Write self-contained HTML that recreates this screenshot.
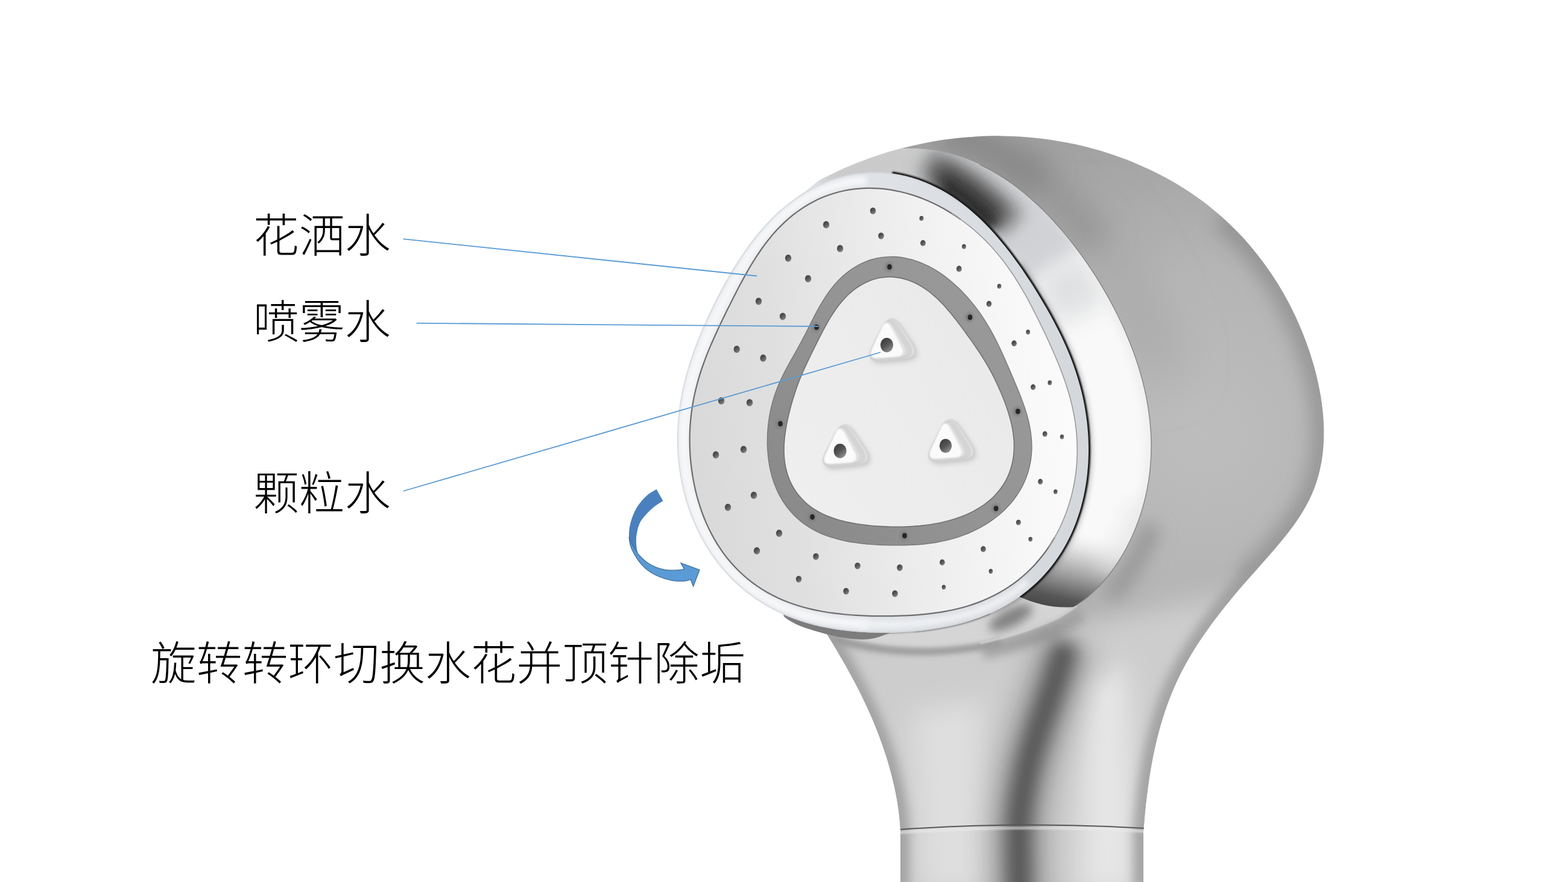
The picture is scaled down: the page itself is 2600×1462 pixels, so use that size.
<!DOCTYPE html>
<html><head><meta charset="utf-8"><title>shower</title>
<style>html,body{margin:0;padding:0;background:#fff;font-family:"Liberation Sans",sans-serif;}svg{display:block}</style>
</head><body><svg width="2600" height="1462" viewBox="0 0 2600 1462">
<defs>
<filter id="b1_2" filterUnits="userSpaceOnUse" x="900" y="100" width="1500" height="1560"><feGaussianBlur stdDeviation="1.2"/></filter>
<filter id="b2" filterUnits="userSpaceOnUse" x="900" y="100" width="1500" height="1560"><feGaussianBlur stdDeviation="2"/></filter>
<filter id="b4" filterUnits="userSpaceOnUse" x="900" y="100" width="1500" height="1560"><feGaussianBlur stdDeviation="4"/></filter>
<filter id="b8" filterUnits="userSpaceOnUse" x="900" y="100" width="1500" height="1560"><feGaussianBlur stdDeviation="8"/></filter>
<filter id="b14" filterUnits="userSpaceOnUse" x="900" y="100" width="1500" height="1560"><feGaussianBlur stdDeviation="14"/></filter>
<filter id="b22" filterUnits="userSpaceOnUse" x="900" y="100" width="1500" height="1560"><feGaussianBlur stdDeviation="22"/></filter>
<filter id="b40" filterUnits="userSpaceOnUse" x="900" y="100" width="1500" height="1560"><feGaussianBlur stdDeviation="40"/></filter>
<clipPath id="cBody"><path d="M1335.0,318.0 C1338.9,314.9 1351.3,304.0 1358.3,299.3 C1365.4,294.5 1370.8,292.8 1377.1,289.7 C1383.4,286.6 1389.7,283.7 1396.1,280.8 C1402.5,277.9 1408.9,275.2 1415.4,272.5 C1421.9,269.9 1428.4,267.3 1435.0,264.9 C1441.5,262.5 1448.1,260.2 1454.7,258.0 C1461.3,255.7 1468.0,253.6 1474.7,251.6 C1481.4,249.7 1488.1,247.8 1494.8,246.0 C1501.6,244.2 1508.3,242.6 1515.1,241.0 C1521.9,239.5 1528.7,238.0 1535.6,236.7 C1542.4,235.4 1549.3,234.2 1556.1,233.1 C1563.0,232.0 1569.9,231.0 1576.8,230.2 C1583.7,229.3 1590.6,228.5 1597.6,227.9 C1604.5,227.3 1611.4,226.8 1618.4,226.4 C1625.3,226.0 1632.3,225.7 1639.3,225.5 C1646.2,225.3 1653.2,225.3 1660.1,225.4 C1667.1,225.4 1674.1,225.6 1681.0,225.9 C1688.0,226.2 1694.9,226.6 1701.9,227.2 C1708.8,227.7 1715.8,228.4 1722.7,229.2 C1729.6,230.0 1736.6,230.9 1743.5,231.9 C1750.4,232.9 1757.3,234.1 1764.2,235.4 C1771.0,236.6 1777.9,238.0 1784.7,239.6 C1791.6,241.1 1798.4,242.7 1805.2,244.5 C1812.0,246.2 1818.7,248.1 1825.5,250.1 C1832.2,252.1 1838.9,254.3 1845.5,256.5 C1852.1,258.7 1858.7,261.1 1865.3,263.6 C1871.8,266.1 1878.4,268.7 1884.8,271.4 C1891.2,274.1 1897.6,277.0 1904.0,279.9 C1910.3,282.9 1916.6,286.0 1922.8,289.2 C1929.0,292.4 1935.1,295.7 1941.2,299.1 C1947.2,302.5 1953.2,306.1 1959.1,309.7 C1965.0,313.4 1970.9,317.2 1976.6,321.1 C1982.3,325.0 1988.0,329.0 1993.5,333.1 C1999.1,337.3 2004.6,341.5 2009.9,345.9 C2015.3,350.2 2020.6,354.7 2025.7,359.3 C2030.9,363.9 2036.0,368.6 2040.9,373.4 C2045.9,378.2 2050.8,383.1 2055.5,388.1 C2060.3,393.1 2065.0,398.2 2069.5,403.4 C2074.1,408.6 2078.5,414.0 2082.8,419.4 C2087.2,424.8 2091.4,430.3 2095.5,435.9 C2099.6,441.4 2103.6,447.1 2107.5,452.9 C2111.4,458.7 2115.2,464.5 2118.9,470.5 C2122.6,476.4 2126.1,482.4 2129.5,488.5 C2133.0,494.6 2136.3,500.8 2139.5,507.1 C2142.7,513.3 2145.8,519.7 2148.8,526.1 C2151.7,532.5 2154.6,538.9 2157.3,545.5 C2160.0,552.0 2162.6,558.6 2165.1,565.3 C2167.6,572.0 2170.0,578.7 2172.2,585.5 C2174.4,592.3 2176.5,599.2 2178.5,606.1 C2180.4,612.9 2182.2,619.9 2183.9,626.9 C2185.5,633.8 2187.0,640.8 2188.3,647.8 C2189.6,654.8 2190.8,661.8 2191.7,668.8 C2192.7,675.8 2193.5,682.8 2194.0,689.8 C2194.6,696.8 2194.9,703.8 2195.1,710.7 C2195.2,717.6 2195.1,724.5 2194.8,731.4 C2194.5,738.2 2194.0,745.0 2193.2,751.8 C2192.4,758.5 2191.3,765.2 2190.0,771.8 C2188.7,778.3 2187.2,784.9 2185.3,791.3 C2183.5,797.7 2181.4,804.0 2179.0,810.2 C2176.5,816.4 2173.8,822.5 2170.9,828.5 C2167.9,834.6 2164.6,840.4 2161.2,846.3 C2157.7,852.1 2154.0,857.8 2150.2,863.4 C2146.3,869.1 2142.2,874.7 2138.0,880.2 C2133.8,885.7 2129.4,891.2 2125.0,896.6 C2120.6,902.0 2116.0,907.4 2111.4,912.7 C2106.7,918.1 2102.0,923.4 2097.3,928.7 C2092.6,934.1 2087.9,939.3 2083.2,944.7 C2078.4,950.0 2073.7,955.3 2069.1,960.6 C2064.4,965.9 2059.8,971.2 2055.2,976.6 C2050.6,981.9 2046.1,987.3 2041.6,992.7 C2037.2,998.1 2032.8,1003.5 2028.4,1009.0 C2024.1,1014.5 2019.8,1019.9 2015.6,1025.5 C2011.4,1031.0 2007.3,1036.6 2003.3,1042.2 C1999.2,1047.8 1995.3,1053.5 1991.5,1059.2 C1987.6,1064.9 1983.9,1070.7 1980.2,1076.5 C1976.6,1082.4 1973.1,1088.3 1969.7,1094.2 C1966.3,1100.2 1963.0,1106.2 1959.8,1112.3 C1956.7,1118.4 1953.6,1124.6 1950.7,1130.9 C1947.8,1137.1 1945.1,1143.5 1942.4,1149.9 C1939.8,1156.3 1937.4,1162.8 1935.0,1169.4 C1932.7,1175.9 1930.4,1182.6 1928.4,1189.3 C1926.3,1195.9 1924.3,1202.7 1922.4,1209.5 C1920.6,1216.3 1918.8,1223.1 1917.2,1230.0 C1915.6,1236.9 1914.1,1243.8 1912.6,1250.7 C1911.2,1257.6 1909.9,1264.6 1908.7,1271.5 C1907.4,1278.5 1906.3,1285.5 1905.3,1292.5 C1904.2,1299.4 1903.3,1306.4 1902.4,1313.4 C1901.5,1320.4 1900.7,1327.3 1899.9,1334.3 C1899.2,1341.2 1898.5,1348.1 1897.9,1355.0 C1897.3,1361.9 1896.6,1372.2 1896.3,1375.6 L1896,1377 L1896,1472 L1493,1472 L1493,1377 L1493.0,1374.0 C1492.7,1369.9 1491.8,1357.6 1490.8,1349.4 C1489.8,1341.3 1488.6,1333.2 1487.2,1325.1 C1485.8,1317.0 1484.1,1308.9 1482.3,1300.9 C1480.5,1292.8 1478.5,1284.9 1476.3,1276.9 C1474.2,1269.0 1471.8,1261.1 1469.3,1253.3 C1466.8,1245.4 1464.2,1237.6 1461.4,1229.9 C1458.6,1222.2 1455.7,1214.5 1452.6,1206.8 C1449.6,1199.2 1446.4,1191.6 1443.1,1184.1 C1439.8,1176.6 1436.3,1169.1 1432.8,1161.7 C1429.3,1154.3 1425.6,1146.9 1421.8,1139.6 C1418.1,1132.3 1414.2,1125.1 1410.3,1117.9 C1406.4,1110.6 1402.3,1103.5 1398.2,1096.3 C1394.1,1089.2 1390.0,1082.1 1385.8,1075.0 C1381.6,1068.0 1377.3,1061.0 1373.0,1053.9 C1368.7,1046.9 1362.2,1036.4 1360.1,1033.0 L1400,900 Z"/></clipPath>
<clipPath id="cChrome"><path d="M1300,380 L1300,180 L1498,180 L1496.6,246.3 C1501.2,246.4 1515.2,246.1 1524.3,246.6 C1533.3,247.2 1542.2,248.2 1550.9,249.6 C1559.6,251.0 1568.1,252.8 1576.4,255.0 C1584.7,257.2 1592.9,259.8 1600.9,262.7 C1608.8,265.6 1616.6,268.9 1624.3,272.5 C1631.9,276.1 1639.4,280.0 1646.7,284.1 C1654.0,288.3 1661.1,292.8 1668.1,297.5 C1675.1,302.2 1681.9,307.1 1688.6,312.3 C1695.3,317.5 1701.9,322.9 1708.3,328.5 C1714.7,334.1 1721.0,339.9 1727.1,345.9 C1733.2,351.9 1739.2,358.0 1745.1,364.3 C1750.9,370.6 1756.7,377.1 1762.3,383.7 C1767.9,390.3 1773.3,397.0 1778.7,403.8 C1784.0,410.7 1789.2,417.6 1794.3,424.7 C1799.4,431.7 1804.3,438.9 1809.1,446.2 C1814.0,453.4 1818.6,460.7 1823.2,468.2 C1827.7,475.6 1832.1,483.1 1836.4,490.6 C1840.6,498.2 1844.7,505.8 1848.7,513.5 C1852.6,521.2 1856.4,529.0 1860.1,536.8 C1863.7,544.7 1867.2,552.5 1870.5,560.5 C1873.8,568.4 1876.9,576.4 1879.8,584.4 C1882.7,592.5 1885.5,600.6 1888.0,608.7 C1890.5,616.8 1892.9,625.0 1895.0,633.3 C1897.1,641.5 1899.0,649.8 1900.7,658.1 C1902.3,666.4 1903.8,674.8 1904.9,683.2 C1906.1,691.5 1907.0,700.0 1907.7,708.4 C1908.4,716.9 1908.8,725.4 1908.9,733.9 C1909.0,742.4 1908.9,750.9 1908.4,759.4 C1908.0,768.0 1907.2,776.5 1906.2,785.1 C1905.2,793.6 1903.8,802.1 1902.2,810.6 C1900.5,819.1 1898.6,827.6 1896.3,836.0 C1894.0,844.4 1891.4,852.7 1888.5,861.0 C1885.6,869.2 1882.4,877.4 1878.8,885.5 C1875.3,893.5 1871.4,901.4 1867.2,909.2 C1863.1,916.9 1858.6,924.5 1853.8,931.8 C1849.1,939.1 1844.0,946.2 1838.7,953.0 C1833.3,959.7 1827.7,966.3 1821.9,972.3 C1816.0,978.4 1809.9,984.2 1803.6,989.4 C1797.3,994.6 1787.4,1001.2 1784.2,1003.5 L1780,1006 Q1735,1010 1688,988 L1600,1000 L1500,700 L1440,330 Z"/></clipPath>
<clipPath id="cRim"><path d="M1124.0,698.7 C1124.5,692.5 1125.1,686.3 1125.9,680.2 C1126.6,674.0 1127.6,667.9 1128.6,661.8 C1129.6,655.8 1130.8,649.7 1132.1,643.7 C1133.5,637.7 1134.9,631.7 1136.4,625.8 C1138.0,619.9 1139.7,614.0 1141.4,608.2 C1143.2,602.3 1145.1,596.5 1147.0,590.7 C1149.0,585.0 1151.1,579.2 1153.2,573.5 C1155.4,567.8 1157.6,562.1 1159.9,556.5 C1162.2,550.8 1164.6,545.2 1167.1,539.6 C1169.5,534.0 1172.1,528.4 1174.7,522.8 C1177.3,517.2 1179.9,511.6 1182.7,506.1 C1185.4,500.5 1188.3,494.9 1191.2,489.3 C1194.1,483.7 1197.0,478.2 1200.1,472.6 C1203.2,467.0 1206.3,461.4 1209.6,455.8 C1212.9,450.2 1216.2,444.7 1219.7,439.1 C1223.2,433.5 1226.8,427.9 1230.5,422.4 C1234.3,416.9 1238.2,411.3 1242.2,405.8 C1246.2,400.4 1250.4,394.9 1254.7,389.6 C1259.1,384.2 1263.6,378.9 1268.3,373.7 C1273.0,368.6 1277.9,363.5 1282.9,358.5 C1288.0,353.6 1293.3,348.8 1298.7,344.2 C1304.1,339.6 1309.8,335.1 1315.6,330.9 C1321.4,326.7 1327.4,322.6 1333.5,318.9 C1339.7,315.2 1346.1,311.6 1352.5,308.5 C1359.0,305.3 1365.7,302.3 1372.4,299.8 C1379.2,297.2 1386.1,294.9 1393.1,293.0 C1400.1,291.1 1407.2,289.5 1414.3,288.3 C1421.5,287.2 1428.7,286.3 1435.9,285.9 C1443.2,285.4 1450.4,285.3 1457.7,285.6 C1464.9,285.8 1472.2,286.5 1479.3,287.5 C1486.5,288.5 1493.6,289.9 1500.7,291.6 C1507.7,293.2 1514.7,295.3 1521.5,297.6 C1528.3,300.0 1535.0,302.6 1541.6,305.5 C1548.2,308.5 1554.6,311.7 1560.9,315.1 C1567.1,318.5 1573.2,322.2 1579.2,326.1 C1585.1,330.0 1590.9,334.1 1596.4,338.3 C1602.0,342.5 1607.4,346.9 1612.6,351.4 C1617.8,355.9 1622.9,360.6 1627.8,365.3 C1632.6,370.0 1637.3,374.8 1641.9,379.7 C1646.4,384.5 1650.8,389.5 1655.0,394.4 C1659.3,399.3 1663.3,404.3 1667.3,409.3 C1671.3,414.2 1675.1,419.2 1678.8,424.2 C1682.5,429.1 1686.1,434.1 1689.6,439.1 C1693.1,444.0 1696.5,448.9 1699.8,453.9 C1703.1,458.8 1706.3,463.7 1709.5,468.6 C1712.6,473.4 1715.7,478.3 1718.7,483.2 C1721.7,488.0 1724.7,492.9 1727.5,497.7 C1730.4,502.5 1733.2,507.4 1736.0,512.2 C1738.8,517.1 1741.5,521.9 1744.1,526.8 C1746.7,531.6 1749.3,536.5 1751.8,541.4 C1754.3,546.3 1756.8,551.2 1759.2,556.1 C1761.6,561.0 1763.9,566.0 1766.1,571.0 C1768.3,576.0 1770.5,581.0 1772.6,586.1 C1774.7,591.2 1776.7,596.3 1778.6,601.5 C1780.5,606.6 1782.3,611.8 1784.0,617.0 C1785.8,622.3 1787.4,627.6 1788.9,632.9 C1790.5,638.2 1791.9,643.6 1793.2,649.0 C1794.6,654.4 1795.8,659.8 1796.9,665.3 C1798.0,670.8 1799.0,676.3 1799.9,681.9 C1800.8,687.5 1801.6,693.1 1802.3,698.7 C1802.9,704.3 1803.5,710.0 1803.9,715.7 C1804.4,721.4 1804.7,727.1 1804.8,732.9 C1805.0,738.7 1805.1,744.5 1805.0,750.3 C1804.9,756.1 1804.7,761.9 1804.4,767.8 C1804.0,773.6 1803.5,779.5 1802.9,785.4 C1802.3,791.3 1801.5,797.2 1800.6,803.1 C1799.6,809.0 1798.5,814.9 1797.3,820.7 C1796.0,826.6 1794.6,832.5 1793.0,838.4 C1791.4,844.2 1789.7,850.0 1787.7,855.8 C1785.8,861.6 1783.7,867.4 1781.4,873.1 C1779.0,878.8 1776.6,884.4 1773.9,890.0 C1771.2,895.5 1768.3,901.0 1765.2,906.4 C1762.2,911.8 1758.9,917.1 1755.4,922.3 C1752.0,927.5 1748.3,932.5 1744.5,937.5 C1740.7,942.4 1736.7,947.2 1732.5,951.8 C1728.3,956.5 1723.9,961.0 1719.4,965.3 C1714.9,969.6 1710.2,973.8 1705.3,977.8 C1700.5,981.8 1695.5,985.6 1690.4,989.2 C1685.3,992.8 1680.0,996.3 1674.7,999.5 C1669.3,1002.8 1663.9,1005.8 1658.3,1008.7 C1652.8,1011.6 1647.1,1014.3 1641.4,1016.8 C1635.7,1019.3 1629.9,1021.6 1624.1,1023.8 C1618.2,1025.9 1612.3,1027.9 1606.4,1029.7 C1600.5,1031.6 1594.5,1033.2 1588.5,1034.7 C1582.5,1036.2 1576.5,1037.6 1570.5,1038.8 C1564.4,1040.1 1558.4,1041.2 1552.3,1042.1 C1546.3,1043.1 1540.2,1044.0 1534.1,1044.7 C1528.1,1045.5 1522.0,1046.1 1515.9,1046.7 C1509.8,1047.2 1503.7,1047.6 1497.6,1048.0 C1491.5,1048.3 1485.4,1048.6 1479.3,1048.7 C1473.2,1048.9 1467.1,1049.0 1461.0,1048.9 C1454.8,1048.9 1448.7,1048.8 1442.6,1048.5 C1436.4,1048.3 1430.2,1048.0 1424.1,1047.5 C1417.9,1047.1 1411.7,1046.5 1405.5,1045.8 C1399.4,1045.2 1393.2,1044.4 1387.0,1043.4 C1380.8,1042.4 1374.6,1041.4 1368.4,1040.1 C1362.2,1038.9 1356.0,1037.5 1349.9,1035.9 C1343.7,1034.3 1337.6,1032.6 1331.5,1030.7 C1325.4,1028.8 1319.4,1026.7 1313.4,1024.4 C1307.4,1022.1 1301.4,1019.6 1295.6,1016.9 C1289.7,1014.3 1283.9,1011.4 1278.2,1008.3 C1272.6,1005.3 1266.9,1002.0 1261.5,998.6 C1256.0,995.1 1250.6,991.5 1245.4,987.6 C1240.1,983.8 1235.0,979.8 1230.0,975.6 C1225.1,971.4 1220.3,967.0 1215.6,962.4 C1210.9,957.9 1206.4,953.2 1202.1,948.3 C1197.8,943.4 1193.6,938.4 1189.6,933.3 C1185.7,928.1 1181.8,922.9 1178.2,917.5 C1174.6,912.1 1171.1,906.6 1167.9,901.0 C1164.6,895.4 1161.5,889.6 1158.6,883.9 C1155.7,878.1 1153.0,872.2 1150.5,866.3 C1147.9,860.3 1145.6,854.3 1143.4,848.3 C1141.2,842.2 1139.2,836.1 1137.4,829.9 C1135.6,823.8 1134.0,817.6 1132.5,811.4 C1131.0,805.2 1129.7,798.9 1128.6,792.7 C1127.5,786.4 1126.5,780.1 1125.7,773.9 C1124.9,767.6 1124.3,761.3 1123.8,755.0 C1123.4,748.7 1123.1,742.4 1122.9,736.2 C1122.8,729.9 1122.8,723.6 1123.0,717.4 C1123.2,711.1 1123.5,704.9 1124.0,698.7Z"/></clipPath>
<clipPath id="cFace"><path d="M1148.8,669.2 C1149.7,663.5 1150.9,657.9 1152.1,652.3 C1153.3,646.7 1154.7,641.1 1156.2,635.7 C1157.6,630.2 1159.2,624.8 1160.9,619.4 C1162.6,614.0 1164.4,608.7 1166.3,603.5 C1168.2,598.3 1170.1,593.1 1172.1,587.9 C1174.2,582.8 1176.3,577.7 1178.4,572.7 C1180.5,567.7 1182.8,562.7 1185.0,557.7 C1187.2,552.8 1189.5,547.9 1191.8,542.9 C1194.1,538.0 1196.4,533.2 1198.8,528.3 C1201.2,523.4 1203.5,518.5 1205.9,513.6 C1208.4,508.8 1210.8,503.9 1213.3,499.0 C1215.7,494.1 1218.2,489.2 1220.8,484.2 C1223.3,479.3 1225.9,474.3 1228.6,469.3 C1231.2,464.4 1234.0,459.4 1236.8,454.4 C1239.6,449.4 1242.5,444.3 1245.5,439.3 C1248.5,434.3 1251.6,429.3 1254.9,424.3 C1258.2,419.4 1261.5,414.4 1265.1,409.5 C1268.6,404.6 1272.3,399.8 1276.2,395.0 C1280.1,390.3 1284.1,385.6 1288.3,381.1 C1292.5,376.6 1296.9,372.2 1301.5,367.9 C1306.0,363.7 1310.8,359.6 1315.7,355.7 C1320.6,351.9 1325.7,348.2 1330.9,344.8 C1336.2,341.3 1341.6,338.1 1347.2,335.2 C1352.7,332.2 1358.4,329.5 1364.2,327.1 C1370.0,324.7 1376.0,322.5 1382.0,320.7 C1388.0,318.8 1394.2,317.3 1400.3,316.0 C1406.5,314.7 1412.7,313.8 1419.0,313.1 C1425.2,312.4 1431.6,312.0 1437.8,311.9 C1444.1,311.8 1450.4,311.9 1456.7,312.4 C1463.0,312.8 1469.2,313.5 1475.4,314.4 C1481.6,315.4 1487.7,316.6 1493.8,318.0 C1499.9,319.4 1505.9,321.1 1511.8,322.9 C1517.7,324.7 1523.5,326.8 1529.3,329.0 C1535.0,331.3 1540.6,333.7 1546.2,336.3 C1551.7,338.9 1557.1,341.6 1562.4,344.5 C1567.7,347.4 1572.9,350.5 1577.9,353.7 C1583.0,356.8 1587.9,360.2 1592.7,363.6 C1597.5,367.0 1602.2,370.6 1606.7,374.2 C1611.3,377.8 1615.7,381.6 1620.0,385.4 C1624.3,389.2 1628.4,393.2 1632.5,397.1 C1636.5,401.1 1640.4,405.2 1644.2,409.3 C1647.9,413.5 1651.6,417.7 1655.1,421.9 C1658.6,426.1 1662.0,430.4 1665.2,434.8 C1668.5,439.1 1671.7,443.4 1674.7,447.8 C1677.8,452.2 1680.7,456.6 1683.6,461.0 C1686.4,465.5 1689.1,469.9 1691.8,474.3 C1694.5,478.8 1697.0,483.2 1699.6,487.7 C1702.1,492.1 1704.5,496.6 1706.9,501.0 C1709.3,505.5 1711.6,509.9 1713.9,514.3 C1716.1,518.8 1718.4,523.2 1720.6,527.6 C1722.8,532.1 1725.0,536.5 1727.1,541.0 C1729.2,545.4 1731.4,549.8 1733.5,554.3 C1735.6,558.8 1737.6,563.2 1739.7,567.7 C1741.8,572.3 1743.8,576.8 1745.8,581.3 C1747.8,585.9 1749.8,590.5 1751.7,595.2 C1753.7,599.8 1755.6,604.5 1757.5,609.2 C1759.4,614.0 1761.2,618.8 1763.0,623.7 C1764.7,628.5 1766.4,633.4 1768.1,638.4 C1769.7,643.4 1771.3,648.5 1772.7,653.6 C1774.2,658.7 1775.6,663.9 1776.9,669.2 C1778.1,674.5 1779.3,679.8 1780.3,685.2 C1781.4,690.6 1782.3,696.0 1783.1,701.5 C1783.8,707.1 1784.5,712.6 1785.0,718.2 C1785.5,723.9 1785.9,729.5 1786.1,735.2 C1786.2,740.9 1786.3,746.7 1786.2,752.5 C1786.0,758.3 1785.8,764.1 1785.3,769.9 C1784.9,775.7 1784.2,781.6 1783.4,787.4 C1782.6,793.3 1781.7,799.2 1780.5,805.0 C1779.3,810.9 1778.0,816.8 1776.5,822.6 C1774.9,828.4 1773.2,834.3 1771.3,840.1 C1769.4,845.8 1767.3,851.6 1765.0,857.3 C1762.7,863.0 1760.3,868.6 1757.6,874.2 C1754.9,879.8 1752.0,885.3 1748.9,890.7 C1745.8,896.1 1742.5,901.4 1739.0,906.6 C1735.6,911.8 1731.9,916.9 1728.0,921.8 C1724.1,926.7 1720.0,931.5 1715.8,936.2 C1711.5,940.8 1707.0,945.3 1702.4,949.5 C1697.8,953.8 1693.0,957.9 1688.0,961.8 C1683.0,965.7 1677.9,969.4 1672.6,972.9 C1667.4,976.4 1662.0,979.7 1656.4,982.8 C1650.9,985.9 1645.3,988.7 1639.5,991.3 C1633.8,994.0 1628.0,996.4 1622.1,998.6 C1616.2,1000.8 1610.2,1002.8 1604.2,1004.7 C1598.1,1006.5 1592.1,1008.1 1586.0,1009.5 C1579.9,1011.0 1573.7,1012.2 1567.6,1013.4 C1561.5,1014.5 1555.3,1015.4 1549.2,1016.2 C1543.0,1017.1 1536.8,1017.8 1530.7,1018.4 C1524.5,1019.0 1518.4,1019.4 1512.2,1019.8 C1506.1,1020.2 1500.0,1020.5 1493.8,1020.7 C1487.7,1020.9 1481.5,1021.1 1475.4,1021.2 C1469.2,1021.2 1463.1,1021.2 1456.9,1021.2 C1450.8,1021.1 1444.6,1021.0 1438.4,1020.8 C1432.3,1020.6 1426.1,1020.3 1419.8,1019.9 C1413.6,1019.5 1407.4,1019.1 1401.1,1018.5 C1394.9,1017.9 1388.6,1017.2 1382.4,1016.4 C1376.1,1015.6 1369.8,1014.6 1363.5,1013.5 C1357.2,1012.4 1351.0,1011.1 1344.7,1009.6 C1338.5,1008.2 1332.2,1006.5 1326.0,1004.7 C1319.9,1002.8 1313.7,1000.7 1307.6,998.5 C1301.6,996.2 1295.6,993.7 1289.7,990.9 C1283.8,988.2 1278.0,985.2 1272.3,982.0 C1266.6,978.7 1261.1,975.3 1255.7,971.6 C1250.3,967.9 1245.1,964.0 1240.0,959.9 C1235.0,955.7 1230.1,951.4 1225.4,946.8 C1220.8,942.3 1216.3,937.5 1212.0,932.6 C1207.7,927.7 1203.7,922.6 1199.8,917.3 C1196.0,912.1 1192.4,906.7 1188.9,901.2 C1185.5,895.7 1182.3,890.0 1179.4,884.3 C1176.4,878.6 1173.6,872.7 1171.0,866.9 C1168.5,861.0 1166.1,855.0 1163.9,849.0 C1161.8,843.0 1159.8,837.0 1158.0,830.9 C1156.2,824.9 1154.6,818.8 1153.2,812.7 C1151.7,806.6 1150.5,800.5 1149.4,794.4 C1148.3,788.2 1147.3,782.1 1146.6,776.0 C1145.8,770.0 1145.2,763.9 1144.7,757.8 C1144.2,751.8 1143.9,745.7 1143.8,739.7 C1143.6,733.7 1143.6,727.7 1143.7,721.7 C1143.8,715.8 1144.1,709.9 1144.5,704.0 C1145.0,698.1 1145.5,692.2 1146.2,686.5 C1146.9,680.7 1147.8,674.9 1148.8,669.2Z"/></clipPath>
<clipPath id="cG"><path d="M1276.7,684.8 C1277.4,681.2 1278.2,677.5 1279.1,673.9 C1280.0,670.3 1280.9,666.8 1282.0,663.3 C1283.0,659.7 1284.1,656.3 1285.3,652.8 C1286.5,649.4 1287.7,646.0 1289.0,642.7 C1290.4,639.4 1291.7,636.1 1293.2,632.8 C1294.6,629.6 1296.1,626.4 1297.7,623.3 C1299.2,620.1 1300.8,617.0 1302.4,613.9 C1304.0,610.8 1305.7,607.8 1307.3,604.8 C1309.0,601.7 1310.7,598.7 1312.3,595.7 C1314.0,592.8 1315.7,589.8 1317.4,586.8 C1319.1,583.8 1320.7,580.8 1322.4,577.8 C1324.1,574.8 1325.7,571.8 1327.4,568.7 C1329.0,565.7 1330.7,562.6 1332.3,559.4 C1334.0,556.3 1335.6,553.1 1337.3,549.8 C1338.9,546.6 1340.6,543.3 1342.3,539.9 C1344.0,536.6 1345.7,533.1 1347.5,529.7 C1349.2,526.2 1351.0,522.6 1352.9,519.1 C1354.8,515.5 1356.8,511.9 1358.9,508.2 C1360.9,504.6 1363.1,500.9 1365.4,497.3 C1367.7,493.6 1370.0,490.0 1372.6,486.4 C1375.1,482.8 1377.8,479.2 1380.6,475.7 C1383.4,472.2 1386.4,468.8 1389.5,465.5 C1392.7,462.3 1395.9,459.1 1399.4,456.1 C1402.8,453.1 1406.4,450.2 1410.1,447.6 C1413.8,445.0 1417.7,442.5 1421.6,440.3 C1425.6,438.0 1429.7,436.0 1433.9,434.3 C1438.1,432.5 1442.4,431.0 1446.8,429.8 C1451.1,428.5 1455.6,427.6 1460.1,426.9 C1464.5,426.2 1469.1,425.7 1473.6,425.6 C1478.1,425.4 1482.7,425.5 1487.2,425.8 C1491.7,426.2 1496.2,426.8 1500.6,427.6 C1505.1,428.5 1509.5,429.6 1513.9,430.8 C1518.2,432.1 1522.5,433.6 1526.7,435.3 C1530.9,437.0 1535.0,438.9 1539.0,440.9 C1543.0,442.9 1547.0,445.1 1550.8,447.4 C1554.6,449.7 1558.3,452.1 1562.0,454.6 C1565.6,457.2 1569.1,459.8 1572.5,462.5 C1575.9,465.2 1579.2,468.0 1582.4,470.9 C1585.6,473.8 1588.7,476.7 1591.7,479.6 C1594.7,482.6 1597.6,485.6 1600.4,488.7 C1603.2,491.7 1606.0,494.8 1608.6,497.9 C1611.2,501.0 1613.7,504.1 1616.2,507.3 C1618.6,510.4 1621.0,513.6 1623.3,516.7 C1625.6,519.9 1627.8,523.1 1629.9,526.3 C1632.0,529.5 1634.1,532.7 1636.0,536.0 C1638.0,539.2 1639.9,542.4 1641.8,545.6 C1643.6,548.9 1645.4,552.1 1647.1,555.3 C1648.8,558.5 1650.5,561.8 1652.1,565.0 C1653.7,568.2 1655.3,571.4 1656.8,574.7 C1658.3,577.9 1659.8,581.1 1661.3,584.3 C1662.8,587.5 1664.2,590.7 1665.6,593.9 C1667.0,597.1 1668.4,600.3 1669.8,603.5 C1671.2,606.7 1672.6,609.9 1674.0,613.1 C1675.3,616.3 1676.7,619.5 1678.1,622.8 C1679.5,626.0 1680.9,629.3 1682.2,632.6 C1683.6,635.8 1685.0,639.1 1686.4,642.5 C1687.8,645.8 1689.1,649.2 1690.5,652.6 C1691.9,656.0 1693.2,659.5 1694.5,663.0 C1695.8,666.6 1697.1,670.1 1698.4,673.8 C1699.6,677.4 1700.8,681.1 1701.9,684.8 C1703.0,688.6 1704.1,692.4 1705.1,696.2 C1706.0,700.1 1706.9,704.0 1707.6,708.0 C1708.4,712.0 1709.0,716.0 1709.5,720.0 C1710.0,724.1 1710.4,728.2 1710.6,732.3 C1710.8,736.4 1710.9,740.6 1710.8,744.7 C1710.6,748.9 1710.4,753.0 1709.9,757.2 C1709.4,761.3 1708.8,765.5 1707.9,769.6 C1707.1,773.7 1706.1,777.7 1704.9,781.8 C1703.7,785.8 1702.3,789.8 1700.8,793.7 C1699.2,797.5 1697.5,801.4 1695.6,805.1 C1693.6,808.9 1691.6,812.6 1689.3,816.1 C1687.1,819.7 1684.7,823.2 1682.2,826.5 C1679.7,829.9 1677.0,833.1 1674.2,836.3 C1671.4,839.4 1668.5,842.5 1665.5,845.4 C1662.5,848.3 1659.3,851.1 1656.1,853.8 C1652.9,856.4 1649.6,859.0 1646.2,861.4 C1642.8,863.9 1639.4,866.2 1635.8,868.4 C1632.3,870.6 1628.7,872.7 1625.1,874.7 C1621.5,876.6 1617.8,878.5 1614.1,880.2 C1610.3,881.9 1606.6,883.6 1602.8,885.1 C1599.0,886.6 1595.2,888.0 1591.4,889.3 C1587.5,890.6 1583.7,891.8 1579.8,892.9 C1575.9,894.0 1572.1,895.0 1568.2,895.9 C1564.3,896.8 1560.4,897.6 1556.5,898.3 C1552.7,899.1 1548.8,899.7 1544.9,900.3 C1541.0,900.8 1537.1,901.3 1533.3,901.7 C1529.4,902.1 1525.5,902.5 1521.7,902.8 C1517.8,903.0 1514.0,903.3 1510.1,903.4 C1506.3,903.6 1502.5,903.7 1498.6,903.8 C1494.8,903.9 1491.0,903.9 1487.2,903.9 C1483.3,903.9 1479.5,903.9 1475.7,903.8 C1471.9,903.7 1468.0,903.6 1464.2,903.5 C1460.3,903.3 1456.5,903.1 1452.6,902.9 C1448.8,902.7 1444.9,902.4 1441.0,902.1 C1437.1,901.8 1433.2,901.4 1429.3,901.0 C1425.3,900.5 1421.4,900.0 1417.4,899.4 C1413.5,898.9 1409.5,898.2 1405.5,897.5 C1401.6,896.7 1397.6,895.9 1393.6,894.9 C1389.7,894.0 1385.7,892.9 1381.7,891.7 C1377.8,890.5 1373.9,889.2 1370.0,887.8 C1366.1,886.3 1362.3,884.7 1358.5,883.0 C1354.7,881.2 1351.0,879.3 1347.4,877.3 C1343.7,875.2 1340.2,873.0 1336.7,870.6 C1333.3,868.3 1329.9,865.8 1326.7,863.1 C1323.4,860.4 1320.3,857.6 1317.3,854.7 C1314.4,851.7 1311.5,848.6 1308.8,845.4 C1306.2,842.2 1303.6,838.8 1301.2,835.4 C1298.9,831.9 1296.6,828.4 1294.6,824.8 C1292.5,821.1 1290.6,817.4 1288.9,813.6 C1287.1,809.8 1285.5,806.0 1284.1,802.1 C1282.6,798.2 1281.4,794.2 1280.2,790.3 C1279.1,786.3 1278.1,782.3 1277.2,778.3 C1276.3,774.3 1275.6,770.3 1275.0,766.3 C1274.3,762.3 1273.8,758.3 1273.5,754.3 C1273.1,750.3 1272.8,746.3 1272.6,742.3 C1272.4,738.4 1272.3,734.4 1272.4,730.5 C1272.4,726.6 1272.5,722.7 1272.7,718.8 C1272.9,714.9 1273.1,711.1 1273.5,707.3 C1273.9,703.5 1274.3,699.7 1274.9,696.0 C1275.4,692.2 1276.0,688.5 1276.7,684.8Z"/></clipPath>
<clipPath id="cI"><path d="M1307.9,687.0 C1308.6,684.0 1309.4,681.0 1310.2,678.0 C1310.9,675.0 1311.7,672.1 1312.6,669.1 C1313.4,666.2 1314.2,663.3 1315.1,660.5 C1316.0,657.6 1316.9,654.8 1317.8,652.0 C1318.7,649.2 1319.7,646.4 1320.6,643.6 C1321.6,640.8 1322.6,638.1 1323.6,635.3 C1324.7,632.6 1325.7,629.9 1326.8,627.2 C1327.9,624.5 1329.0,621.8 1330.2,619.1 C1331.3,616.4 1332.5,613.8 1333.7,611.1 C1334.9,608.4 1336.1,605.8 1337.4,603.1 C1338.6,600.4 1339.9,597.8 1341.2,595.1 C1342.5,592.4 1343.8,589.7 1345.1,587.0 C1346.4,584.3 1347.8,581.6 1349.2,578.9 C1350.5,576.1 1351.9,573.3 1353.3,570.5 C1354.7,567.7 1356.1,564.8 1357.6,561.9 C1359.1,559.0 1360.6,556.1 1362.1,553.1 C1363.7,550.1 1365.3,547.1 1366.9,544.0 C1368.6,540.9 1370.3,537.8 1372.1,534.7 C1373.8,531.5 1375.7,528.4 1377.7,525.2 C1379.6,522.0 1381.7,518.8 1383.8,515.7 C1386.0,512.5 1388.2,509.4 1390.6,506.3 C1393.0,503.2 1395.6,500.1 1398.2,497.2 C1400.9,494.2 1403.6,491.3 1406.5,488.5 C1409.5,485.8 1412.5,483.1 1415.7,480.6 C1418.8,478.2 1422.2,475.8 1425.6,473.7 C1429.0,471.6 1432.5,469.6 1436.2,467.9 C1439.8,466.2 1443.5,464.7 1447.3,463.5 C1451.1,462.2 1455.0,461.2 1458.9,460.5 C1462.8,459.8 1466.8,459.3 1470.8,459.1 C1474.8,458.9 1478.8,459.0 1482.7,459.4 C1486.7,459.7 1490.7,460.3 1494.6,461.1 C1498.5,462.0 1502.4,463.1 1506.1,464.4 C1509.9,465.7 1513.7,467.3 1517.3,469.0 C1520.9,470.7 1524.4,472.7 1527.9,474.7 C1531.3,476.8 1534.6,479.0 1537.8,481.4 C1541.1,483.7 1544.2,486.2 1547.2,488.8 C1550.2,491.3 1553.0,494.0 1555.8,496.6 C1558.6,499.3 1561.3,502.1 1563.9,504.8 C1566.4,507.6 1568.9,510.4 1571.3,513.2 C1573.7,516.0 1576.0,518.8 1578.3,521.5 C1580.6,524.3 1582.7,527.1 1584.9,529.8 C1587.0,532.5 1589.0,535.2 1591.1,537.9 C1593.1,540.6 1595.1,543.3 1597.0,545.9 C1599.0,548.5 1600.9,551.1 1602.8,553.7 C1604.7,556.3 1606.5,558.9 1608.3,561.4 C1610.2,564.0 1612.0,566.5 1613.7,569.1 C1615.5,571.6 1617.3,574.1 1619.0,576.7 C1620.7,579.2 1622.4,581.8 1624.1,584.3 C1625.8,586.9 1627.4,589.4 1629.1,592.0 C1630.7,594.6 1632.3,597.2 1633.9,599.8 C1635.4,602.4 1637.0,605.0 1638.5,607.7 C1640.0,610.3 1641.5,613.0 1642.9,615.7 C1644.4,618.4 1645.8,621.1 1647.2,623.9 C1648.6,626.7 1650.0,629.4 1651.3,632.2 C1652.7,635.1 1654.0,637.9 1655.3,640.8 C1656.7,643.7 1657.9,646.6 1659.2,649.5 C1660.5,652.5 1661.7,655.5 1662.9,658.5 C1664.2,661.5 1665.4,664.6 1666.5,667.7 C1667.7,670.8 1668.8,674.0 1669.9,677.2 C1671.0,680.4 1672.0,683.7 1673.0,687.0 C1674.0,690.4 1675.0,693.7 1675.8,697.1 C1676.7,700.6 1677.5,704.1 1678.2,707.6 C1678.9,711.1 1679.5,714.7 1680.0,718.3 C1680.5,721.9 1680.9,725.5 1681.2,729.2 C1681.4,732.9 1681.6,736.6 1681.5,740.3 C1681.5,744.0 1681.4,747.7 1681.0,751.5 C1680.7,755.2 1680.2,758.9 1679.5,762.6 C1678.9,766.3 1678.0,769.9 1677.0,773.5 C1676.0,777.1 1674.8,780.7 1673.4,784.2 C1672.1,787.7 1670.5,791.1 1668.8,794.5 C1667.1,797.8 1665.2,801.0 1663.1,804.2 C1661.1,807.3 1658.9,810.4 1656.5,813.3 C1654.2,816.2 1651.7,819.0 1649.1,821.7 C1646.5,824.4 1643.7,827.0 1640.9,829.4 C1638.0,831.9 1635.1,834.2 1632.1,836.3 C1629.0,838.5 1625.9,840.6 1622.7,842.5 C1619.6,844.4 1616.3,846.3 1613.0,847.9 C1609.8,849.6 1606.4,851.2 1603.1,852.7 C1599.8,854.2 1596.4,855.5 1593.0,856.8 C1589.6,858.0 1586.2,859.2 1582.8,860.3 C1579.4,861.4 1575.9,862.3 1572.5,863.3 C1569.1,864.2 1565.7,865.0 1562.3,865.8 C1558.9,866.5 1555.5,867.2 1552.1,867.8 C1548.8,868.5 1545.4,869.0 1542.0,869.5 C1538.7,870.0 1535.3,870.5 1532.0,870.9 C1528.7,871.3 1525.3,871.6 1522.0,871.9 C1518.7,872.2 1515.4,872.4 1512.1,872.6 C1508.8,872.8 1505.6,873.0 1502.3,873.1 C1499.0,873.2 1495.8,873.3 1492.5,873.3 C1489.2,873.3 1486.0,873.3 1482.7,873.3 C1479.5,873.3 1476.2,873.2 1473.0,873.1 C1469.7,873.0 1466.5,872.8 1463.2,872.6 C1460.0,872.5 1456.7,872.3 1453.4,872.0 C1450.2,871.8 1446.9,871.5 1443.6,871.2 C1440.3,870.9 1437.0,870.5 1433.7,870.1 C1430.4,869.7 1427.0,869.3 1423.7,868.8 C1420.3,868.3 1417.0,867.7 1413.6,867.1 C1410.2,866.5 1406.9,865.8 1403.5,865.1 C1400.1,864.3 1396.7,863.5 1393.3,862.6 C1389.9,861.6 1386.5,860.6 1383.2,859.5 C1379.8,858.4 1376.4,857.2 1373.1,855.8 C1369.8,854.5 1366.5,853.0 1363.3,851.4 C1360.1,849.8 1356.9,848.1 1353.8,846.2 C1350.7,844.4 1347.7,842.4 1344.8,840.3 C1341.9,838.1 1339.0,835.9 1336.3,833.5 C1333.6,831.0 1331.0,828.5 1328.6,825.8 C1326.1,823.2 1323.8,820.4 1321.7,817.5 C1319.5,814.6 1317.5,811.5 1315.7,808.4 C1313.8,805.3 1312.1,802.1 1310.6,798.8 C1309.1,795.5 1307.8,792.1 1306.6,788.7 C1305.4,785.3 1304.4,781.8 1303.6,778.3 C1302.7,774.8 1302.1,771.3 1301.5,767.7 C1301.0,764.2 1300.6,760.6 1300.3,757.1 C1300.1,753.5 1299.9,750.0 1299.9,746.4 C1299.9,742.9 1300.0,739.4 1300.2,735.9 C1300.4,732.5 1300.7,729.0 1301.0,725.7 C1301.4,722.3 1301.8,718.9 1302.3,715.6 C1302.8,712.3 1303.3,709.0 1303.9,705.8 C1304.5,702.6 1305.2,699.4 1305.8,696.3 C1306.5,693.2 1307.2,690.1 1307.9,687.0Z"/></clipPath>
<radialGradient id="gBody" gradientUnits="userSpaceOnUse" cx="2000" cy="720" r="540"><stop offset="0" stop-color="#bdbdbd"/><stop offset="0.5" stop-color="#b5b5b5"/><stop offset="0.8" stop-color="#a8a8a8"/><stop offset="1" stop-color="#a1a1a1"/></radialGradient>
<linearGradient id="gFace" gradientUnits="userSpaceOnUse" x1="1140" y1="720" x2="1790" y2="640"><stop offset="0" stop-color="#d9d9d9"/><stop offset="0.25" stop-color="#e0e0e0"/><stop offset="0.6" stop-color="#efefef"/><stop offset="0.85" stop-color="#f8f8f8"/><stop offset="1" stop-color="#fbfbfb"/></linearGradient>
<linearGradient id="gInner" gradientUnits="userSpaceOnUse" x1="1300" y1="800" x2="1680" y2="560"><stop offset="0" stop-color="#efefef"/><stop offset="0.5" stop-color="#ececec"/><stop offset="1" stop-color="#e9e9e9"/></linearGradient>
<linearGradient id="gRing" gradientUnits="userSpaceOnUse" x1="1270" y1="800" x2="1700" y2="500"><stop offset="0" stop-color="#8a8a8a"/><stop offset="0.5" stop-color="#949494"/><stop offset="1" stop-color="#9a9a9a"/></linearGradient>
<linearGradient id="gHole" x1="0.2" y1="0" x2="0.8" y2="1"><stop offset="0" stop-color="#3c3c3c"/><stop offset="0.5" stop-color="#5a5a5a"/><stop offset="1" stop-color="#8c8c8c"/></linearGradient>
<linearGradient id="gNozH" x1="0.15" y1="0" x2="0.85" y2="1"><stop offset="0" stop-color="#383838"/><stop offset="0.5" stop-color="#565656"/><stop offset="1" stop-color="#9a9a9a"/></linearGradient>
<linearGradient id="gRim" gradientUnits="userSpaceOnUse" x1="1120" y1="700" x2="1810" y2="700"><stop offset="0" stop-color="#eceef1"/><stop offset="0.35" stop-color="#e2e5e9"/><stop offset="1" stop-color="#d3d7dc"/></linearGradient>
<linearGradient id="gChB" gradientUnits="userSpaceOnUse" x1="1800" y1="880" x2="1770" y2="1010"><stop offset="0" stop-color="#f6f6f6" stop-opacity="0"/><stop offset="0.3" stop-color="#d4d4d4" stop-opacity="0.9"/><stop offset="0.6" stop-color="#9a9a9a"/><stop offset="0.88" stop-color="#565656"/><stop offset="1" stop-color="#4a4a4a"/></linearGradient>
</defs>
<g clip-path="url(#cBody)">
<rect x="1300" y="200" width="1000" height="1300" fill="url(#gBody)"/>
<path d="M1788.6,362.2 C1791.4,365.7 1799.9,375.8 1805.5,382.9 C1811.0,390.0 1816.6,397.4 1821.9,404.8 C1827.2,412.2 1832.4,419.7 1837.5,427.3 C1842.5,434.9 1847.4,442.6 1852.2,450.4 C1856.9,458.2 1861.5,466.0 1866.0,474.0 C1870.5,481.9 1874.8,489.9 1878.9,498.0 C1883.1,506.1 1887.1,514.3 1890.9,522.5 C1894.7,530.8 1898.4,539.1 1901.9,547.5 C1905.4,555.8 1908.7,564.3 1911.8,572.8 C1914.9,581.3 1917.8,590.1 1920.5,598.6 C1923.1,607.1 1926.5,619.7 1927.7,624.0" fill="none" stroke="#a8a8a8" stroke-width="60" filter="url(#b40)"/>
<path d="M1686.9,271.5 C1690.4,274.1 1701.1,281.5 1708.2,287.0 C1715.3,292.5 1722.5,298.4 1729.3,304.4 C1736.2,310.4 1742.9,316.6 1749.4,323.0 C1755.9,329.3 1762.3,335.9 1768.5,342.5 C1774.7,349.2 1780.7,356.0 1786.6,362.9 C1792.5,369.9 1798.3,377.0 1803.9,384.1 C1809.4,391.2 1817.2,401.9 1819.9,405.5" fill="none" stroke="#989898" stroke-width="60" filter="url(#b22)"/>
<path d="M1557.1,220.3 C1561.6,221.2 1575.0,223.6 1584.0,226.0 C1593.0,228.4 1602.3,231.3 1611.1,234.5 C1620.0,237.8 1628.6,241.4 1637.0,245.3 C1645.4,249.2 1653.5,253.5 1661.5,258.1 C1669.5,262.6 1677.3,267.5 1684.8,272.6 C1692.4,277.6 1699.9,283.1 1707.0,288.6 C1714.1,294.0 1724.0,302.6 1727.4,305.4" fill="none" stroke="#888888" stroke-width="56" filter="url(#b22)"/>
<path d="M2025.7,359.3 C2028.3,361.6 2036.0,368.6 2040.9,373.4 C2045.9,378.2 2050.8,383.1 2055.5,388.1 C2060.3,393.1 2065.0,398.2 2069.5,403.4 C2074.1,408.6 2078.5,414.0 2082.8,419.4 C2087.2,424.8 2091.4,430.3 2095.5,435.9 C2099.6,441.4 2103.6,447.1 2107.5,452.9 C2111.4,458.7 2115.2,464.5 2118.9,470.5 C2122.6,476.4 2126.1,482.4 2129.5,488.5 C2133.0,494.6 2136.3,500.8 2139.5,507.1 C2142.7,513.3 2145.8,519.7 2148.8,526.1 C2151.7,532.5 2154.6,538.9 2157.3,545.5 C2160.0,552.0 2162.6,558.6 2165.1,565.3 C2167.6,572.0 2170.0,578.7 2172.2,585.5 C2174.4,592.3 2176.5,599.2 2178.5,606.1 C2180.4,612.9 2182.2,619.9 2183.9,626.9 C2185.5,633.8 2187.0,640.8 2188.3,647.8 C2189.6,654.8 2190.8,661.8 2191.7,668.8 C2192.7,675.8 2193.5,682.8 2194.0,689.8 C2194.6,696.8 2194.9,703.8 2195.1,710.7 C2195.2,717.6 2195.1,724.5 2194.8,731.4 C2194.5,738.2 2194.0,745.0 2193.2,751.8 C2192.4,758.5 2191.3,765.2 2190.0,771.8 C2188.7,778.3 2187.2,784.9 2185.3,791.3 C2183.5,797.7 2181.4,804.0 2179.0,810.2 C2176.5,816.4 2173.8,822.5 2170.9,828.5 C2167.9,834.6 2164.6,840.4 2161.2,846.3 C2157.7,852.1 2154.0,857.8 2150.2,863.4 C2146.3,869.1 2142.2,874.7 2138.0,880.2 C2133.8,885.7 2129.4,891.2 2125.0,896.6 C2120.6,902.0 2116.0,907.4 2111.4,912.7 C2106.7,918.1 2102.0,923.4 2097.3,928.7 C2092.6,934.1 2087.9,939.3 2083.2,944.7 C2078.4,950.0 2071.4,957.9 2069.1,960.6" fill="none" stroke="#8a8a8a" stroke-width="40" filter="url(#b14)" opacity="0.7"/>
<path d="M1340,1060 L1800,1030 L1960,1000 L2060,985 L1960,1500 L1440,1500 Z" fill="#cdcdcd" filter="url(#b22)"/>
<path d="M1800,1130 L1870,1100 L1885,1480 L1790,1480 Z" fill="#e6e6e6" filter="url(#b22)"/>
<path d="M1510,1180 L1630,1160 L1630,1480 L1530,1480 Z" fill="#dedede" filter="url(#b22)"/>
<path d="M1910.8,869.8 C1909.1,874.0 1904.5,886.7 1900.8,895.2 C1897.0,903.6 1892.8,912.3 1888.4,920.6 C1883.9,928.8 1879.1,937.0 1873.9,944.9 C1868.8,952.8 1863.2,960.6 1857.5,967.8 C1851.8,975.0 1842.9,984.7 1840.0,988.0" fill="none" stroke="#989898" stroke-width="30" filter="url(#b14)"/>
<path d="M1793.4,1015.9 C1787.5,1019.5 1772.1,1030.7 1758.2,1037.6 C1744.3,1044.4 1725.6,1051.5 1709.7,1057.2 C1693.7,1062.9 1675.8,1067.8 1662.5,1071.5 C1649.1,1075.2 1634.8,1078.2 1629.3,1079.6" fill="none" stroke="#a2a2a2" stroke-width="26" filter="url(#b8)"/>
<path d="M1365.0,1040.0 C1377.5,1041.7 1409.2,1049.7 1440.0,1050.0 C1470.8,1050.3 1516.7,1047.0 1550.0,1042.0 C1583.3,1037.0 1615.0,1028.7 1640.0,1020.0 C1665.0,1011.3 1690.0,995.0 1700.0,990.0 L1780,1008 L1752.0,1025.0 C1744.2,1028.2 1720.5,1038.5 1705.0,1044.0 C1689.5,1049.5 1671.9,1054.3 1658.7,1058.0 C1645.5,1061.7 1644.4,1063.3 1626.0,1066.0 C1607.6,1068.7 1574.3,1073.2 1548.4,1074.0 C1522.5,1074.8 1494.1,1073.3 1470.8,1071.0 C1447.5,1068.7 1423.0,1063.2 1408.7,1060.0 C1394.4,1056.8 1389.0,1053.3 1385.0,1052.0 Z" fill="#d5d5d5" filter="url(#b2)"/>
<path d="M1660.1,1063.8 C1654.6,1065.2 1645.5,1069.2 1626.9,1071.9 C1608.3,1074.6 1574.7,1079.2 1548.6,1080.0 C1522.5,1080.8 1493.7,1079.3 1470.2,1077.0 C1446.7,1074.6 1421.9,1069.1 1407.4,1065.9 C1392.9,1062.6 1387.1,1059.0 1383.1,1057.7" fill="none" stroke="#9a9a9a" stroke-width="11" filter="url(#b4)"/>
<ellipse cx="1676" cy="1024" rx="40" ry="15" fill="#838383" filter="url(#b8)" transform="rotate(-27 1676 1024)"/>
<path d="M1768.0,1066.0 C1767.1,1069.0 1766.2,1072.3 1762.7,1084.0 C1759.2,1095.7 1753.2,1116.9 1747.0,1136.0 C1740.8,1155.1 1732.2,1177.7 1725.5,1198.4 C1718.8,1219.2 1712.0,1239.8 1706.8,1260.5 C1701.6,1281.2 1697.4,1303.6 1694.4,1322.7 C1691.4,1341.8 1689.7,1350.5 1689.0,1375.0 C1688.3,1399.5 1689.8,1435.8 1690.0,1470.0 C1690.2,1504.2 1690.0,1561.7 1690.0,1580.0" fill="none" stroke="#4c4c4c" stroke-width="40" filter="url(#b14)" opacity="0.95"/>
<path d="M1768.0,1066.0 C1767.1,1069.0 1766.2,1072.3 1762.7,1084.0 C1759.2,1095.7 1753.2,1116.9 1747.0,1136.0 C1740.8,1155.1 1732.2,1177.7 1725.5,1198.4 C1718.8,1219.2 1712.0,1239.8 1706.8,1260.5 C1701.6,1281.2 1697.4,1303.6 1694.4,1322.7 C1691.4,1341.8 1689.7,1350.5 1689.0,1375.0 C1688.3,1399.5 1689.8,1435.8 1690.0,1470.0 C1690.2,1504.2 1690.0,1561.7 1690.0,1580.0" fill="none" stroke="#5a5a5a" stroke-width="90" filter="url(#b22)" opacity="0.42"/>
<path d="M1493.0,1374.0 C1492.7,1369.9 1491.8,1357.6 1490.8,1349.4 C1489.8,1341.3 1488.6,1333.2 1487.2,1325.1 C1485.8,1317.0 1484.1,1308.9 1482.3,1300.9 C1480.5,1292.8 1478.5,1284.9 1476.3,1276.9 C1474.2,1269.0 1471.8,1261.1 1469.3,1253.3 C1466.8,1245.4 1464.2,1237.6 1461.4,1229.9 C1458.6,1222.2 1455.7,1214.5 1452.6,1206.8 C1449.6,1199.2 1446.4,1191.6 1443.1,1184.1 C1439.8,1176.6 1436.3,1169.1 1432.8,1161.7 C1429.3,1154.3 1425.6,1146.9 1421.8,1139.6 C1418.1,1132.3 1414.2,1125.1 1410.3,1117.9 C1406.4,1110.6 1402.3,1103.5 1398.2,1096.3 C1394.1,1089.2 1390.0,1082.1 1385.8,1075.0 C1381.6,1068.0 1377.3,1061.0 1373.0,1053.9 C1368.7,1046.9 1362.2,1036.4 1360.1,1033.0 L1493,1376 L1493,1472" fill="none" stroke="#9a9a9a" stroke-width="30" filter="url(#b8)" opacity="0.8"/>
<path d="M2083.2,944.7 C2080.8,947.3 2073.7,955.3 2069.1,960.6 C2064.4,965.9 2059.8,971.2 2055.2,976.6 C2050.6,981.9 2046.1,987.3 2041.6,992.7 C2037.2,998.1 2032.8,1003.5 2028.4,1009.0 C2024.1,1014.5 2019.8,1019.9 2015.6,1025.5 C2011.4,1031.0 2007.3,1036.6 2003.3,1042.2 C1999.2,1047.8 1995.3,1053.5 1991.5,1059.2 C1987.6,1064.9 1983.9,1070.7 1980.2,1076.5 C1976.6,1082.4 1973.1,1088.3 1969.7,1094.2 C1966.3,1100.2 1963.0,1106.2 1959.8,1112.3 C1956.7,1118.4 1953.6,1124.6 1950.7,1130.9 C1947.8,1137.1 1945.1,1143.5 1942.4,1149.9 C1939.8,1156.3 1937.4,1162.8 1935.0,1169.4 C1932.7,1175.9 1930.4,1182.6 1928.4,1189.3 C1926.3,1195.9 1924.3,1202.7 1922.4,1209.5 C1920.6,1216.3 1918.8,1223.1 1917.2,1230.0 C1915.6,1236.9 1914.1,1243.8 1912.6,1250.7 C1911.2,1257.6 1909.9,1264.6 1908.7,1271.5 C1907.4,1278.5 1906.3,1285.5 1905.3,1292.5 C1904.2,1299.4 1903.3,1306.4 1902.4,1313.4 C1901.5,1320.4 1900.7,1327.3 1899.9,1334.3 C1899.2,1341.2 1898.5,1348.1 1897.9,1355.0 C1897.3,1361.9 1896.6,1372.2 1896.3,1375.6 L1896,1472" fill="none" stroke="#9a9a9a" stroke-width="34" filter="url(#b8)" opacity="0.8"/>
<path d="M1491,1375 Q1694,1361 1898,1373" fill="none" stroke="#555" stroke-width="2"/>
<path d="M1491,1380 Q1694,1366 1898,1378" fill="none" stroke="#ececec" stroke-width="5" opacity="0.55" filter="url(#b1_2)"/>
<path d="M1786.0,1004.0 C1780.3,1007.5 1765.5,1018.3 1752.0,1025.0 C1738.5,1031.7 1720.5,1038.5 1705.0,1044.0 C1689.5,1049.5 1671.9,1054.3 1658.7,1058.0 C1645.5,1061.7 1631.5,1064.7 1626.0,1066.0" fill="none" stroke="#dcdcdc" stroke-width="2.5" filter="url(#b1_2)" opacity="0.8"/>
</g>
<g clip-path="url(#cBody)"><g clip-path="url(#cChrome)">
<path d="M1300,380 L1300,180 L1498,180 L1496.6,246.3 C1501.2,246.4 1515.2,246.1 1524.3,246.6 C1533.3,247.2 1542.2,248.2 1550.9,249.6 C1559.6,251.0 1568.1,252.8 1576.4,255.0 C1584.7,257.2 1592.9,259.8 1600.9,262.7 C1608.8,265.6 1616.6,268.9 1624.3,272.5 C1631.9,276.1 1639.4,280.0 1646.7,284.1 C1654.0,288.3 1661.1,292.8 1668.1,297.5 C1675.1,302.2 1681.9,307.1 1688.6,312.3 C1695.3,317.5 1701.9,322.9 1708.3,328.5 C1714.7,334.1 1721.0,339.9 1727.1,345.9 C1733.2,351.9 1739.2,358.0 1745.1,364.3 C1750.9,370.6 1756.7,377.1 1762.3,383.7 C1767.9,390.3 1773.3,397.0 1778.7,403.8 C1784.0,410.7 1789.2,417.6 1794.3,424.7 C1799.4,431.7 1804.3,438.9 1809.1,446.2 C1814.0,453.4 1818.6,460.7 1823.2,468.2 C1827.7,475.6 1832.1,483.1 1836.4,490.6 C1840.6,498.2 1844.7,505.8 1848.7,513.5 C1852.6,521.2 1856.4,529.0 1860.1,536.8 C1863.7,544.7 1867.2,552.5 1870.5,560.5 C1873.8,568.4 1876.9,576.4 1879.8,584.4 C1882.7,592.5 1885.5,600.6 1888.0,608.7 C1890.5,616.8 1892.9,625.0 1895.0,633.3 C1897.1,641.5 1899.0,649.8 1900.7,658.1 C1902.3,666.4 1903.8,674.8 1904.9,683.2 C1906.1,691.5 1907.0,700.0 1907.7,708.4 C1908.4,716.9 1908.8,725.4 1908.9,733.9 C1909.0,742.4 1908.9,750.9 1908.4,759.4 C1908.0,768.0 1907.2,776.5 1906.2,785.1 C1905.2,793.6 1903.8,802.1 1902.2,810.6 C1900.5,819.1 1898.6,827.6 1896.3,836.0 C1894.0,844.4 1891.4,852.7 1888.5,861.0 C1885.6,869.2 1882.4,877.4 1878.8,885.5 C1875.3,893.5 1871.4,901.4 1867.2,909.2 C1863.1,916.9 1858.6,924.5 1853.8,931.8 C1849.1,939.1 1844.0,946.2 1838.7,953.0 C1833.3,959.7 1827.7,966.3 1821.9,972.3 C1816.0,978.4 1809.9,984.2 1803.6,989.4 C1797.3,994.6 1787.4,1001.2 1784.2,1003.5 L1780,1006 Q1735,1010 1688,988 L1600,1000 L1500,700 L1440,330 Z" fill="#f9f9f9"/>
<path d="M1358.8,257.9 C1362.6,256.7 1373.5,252.7 1381.5,250.6 C1389.6,248.4 1398.5,246.4 1407.1,245.0 C1415.7,243.5 1424.4,242.5 1433.1,241.9 C1441.8,241.4 1450.6,241.3 1459.3,241.6 C1468.1,241.9 1476.8,242.7 1485.4,243.9 C1494.0,245.1 1502.6,246.8 1510.9,248.8 C1519.3,250.8 1527.6,253.2 1535.7,256.0 C1543.8,258.7 1551.7,261.9 1559.5,265.3 C1567.2,268.8 1574.7,272.5 1582.0,276.5 C1589.3,280.5 1596.4,284.8 1603.2,289.3 C1610.0,293.7 1616.6,298.4 1623.0,303.2 C1629.3,308.0 1635.5,313.0 1641.4,318.1 C1647.2,323.2 1652.9,328.4 1658.3,333.7 C1663.8,338.9 1669.0,344.2 1674.0,349.6 C1679.0,354.9 1683.8,360.3 1688.4,365.7 C1693.0,371.1 1697.4,376.5 1701.7,381.8 C1706.0,387.2 1710.1,392.5 1714.0,397.8 C1718.0,403.1 1721.8,408.4 1725.5,413.6 C1729.2,418.9 1732.8,424.1 1736.3,429.3 C1739.7,434.4 1744.6,441.8 1746.2,444.3" fill="none" stroke="#d0d2d5" stroke-width="120" filter="url(#b14)"/>
<path d="M1751.7,441.8 C1753.3,444.3 1758.1,451.8 1761.2,456.8 C1764.3,461.9 1767.5,467.0 1770.5,472.1 C1773.5,477.2 1776.5,482.3 1779.4,487.5 C1782.4,492.6 1785.3,497.8 1788.0,502.9 C1790.8,508.0 1794.7,515.5 1796.0,518.0" fill="none" stroke="#dfe0e2" stroke-width="100" filter="url(#b22)"/>
<path d="M1320,340 L1400,250 L1530,225 L1530,290 Z" fill="#cacaca" filter="url(#b14)"/>
<path d="M1532.5,269.7 C1536.0,271.1 1546.6,274.9 1553.8,278.1 C1560.9,281.3 1568.3,285.0 1575.3,288.8 C1582.2,292.6 1589.0,296.7 1595.6,301.0 C1602.1,305.2 1608.4,309.8 1614.5,314.4 C1620.6,319.0 1626.5,323.8 1632.2,328.7 C1637.9,333.6 1643.3,338.7 1648.6,343.7 C1653.9,348.8 1659.0,354.1 1663.8,359.2 C1668.6,364.3 1675.1,371.8 1677.4,374.4" fill="none" stroke="#858585" stroke-width="56" filter="url(#b14)"/>
<path d="M1550.1,288.5 C1553.4,290.2 1563.4,294.8 1570.0,298.4 C1576.6,302.1 1583.2,306.1 1589.5,310.2 C1595.9,314.3 1602.0,318.7 1607.9,323.2 C1613.8,327.6 1619.5,332.3 1625.0,337.1 C1630.5,341.8 1635.9,346.8 1641.0,351.6 C1646.0,356.5 1653.0,363.9 1655.4,366.4" fill="none" stroke="#3a3a3a" stroke-width="40" filter="url(#b14)"/>
<path d="M1565.5,307.4 C1568.6,309.3 1578.0,314.6 1584.1,318.6 C1590.1,322.5 1596.1,326.8 1601.9,331.1 C1607.6,335.5 1613.1,340.0 1618.5,344.6 C1623.9,349.2 1629.0,354.0 1634.0,358.8 C1639.0,363.6 1645.9,371.0 1648.3,373.4" fill="none" stroke="#262626" stroke-width="16" filter="url(#b8)"/>
<path d="M1809.1,446.2 C1811.5,449.8 1818.6,460.7 1823.2,468.2 C1827.7,475.6 1832.1,483.1 1836.4,490.6 C1840.6,498.2 1844.7,505.8 1848.7,513.5 C1852.6,521.2 1856.4,529.0 1860.1,536.8 C1863.7,544.7 1867.2,552.5 1870.5,560.5 C1873.8,568.4 1876.9,576.4 1879.8,584.4 C1882.7,592.5 1885.5,600.6 1888.0,608.7 C1890.5,616.8 1892.9,625.0 1895.0,633.3 C1897.1,641.5 1899.0,649.8 1900.7,658.1 C1902.3,666.4 1903.8,674.8 1904.9,683.2 C1906.1,691.5 1907.0,700.0 1907.7,708.4 C1908.4,716.9 1908.8,725.4 1908.9,733.9 C1909.0,742.4 1908.9,750.9 1908.4,759.4 C1908.0,768.0 1907.2,776.5 1906.2,785.1 C1905.2,793.6 1903.8,802.1 1902.2,810.6 C1900.5,819.1 1898.6,827.6 1896.3,836.0 C1894.0,844.4 1891.4,852.7 1888.5,861.0 C1885.6,869.2 1882.4,877.4 1878.8,885.5 C1875.3,893.5 1871.4,901.4 1867.2,909.2 C1863.1,916.9 1858.6,924.5 1853.8,931.8 C1849.1,939.1 1844.0,946.2 1838.7,953.0 C1833.3,959.7 1827.7,966.3 1821.9,972.3 C1816.0,978.4 1809.9,984.2 1803.6,989.4 C1797.3,994.6 1787.4,1001.2 1784.2,1003.5" fill="none" stroke="#ececec" stroke-width="16" filter="url(#b8)"/>
<rect x="1660" y="870" width="240" height="150" fill="url(#gChB)"/>
<path d="M1884.8,832.4 C1883.6,836.5 1880.0,849.0 1877.2,857.0 C1874.3,865.0 1871.2,872.9 1867.8,880.6 C1864.4,888.4 1860.7,896.0 1856.7,903.5 C1852.7,910.9 1848.4,918.1 1843.8,925.2 C1839.1,932.3 1831.4,942.5 1828.9,946.0" fill="none" stroke="#e4e4e4" stroke-width="26" filter="url(#b14)" opacity="0.6"/>
<path d="M1689.6,439.1 C1691.3,441.5 1696.5,448.9 1699.8,453.9 C1703.1,458.8 1706.3,463.7 1709.5,468.6 C1712.6,473.4 1715.7,478.3 1718.7,483.2 C1721.7,488.0 1724.7,492.9 1727.5,497.7 C1730.4,502.5 1733.2,507.4 1736.0,512.2 C1738.8,517.1 1741.5,521.9 1744.1,526.8 C1746.7,531.6 1749.3,536.5 1751.8,541.4 C1754.3,546.3 1756.8,551.2 1759.2,556.1 C1761.6,561.0 1763.9,566.0 1766.1,571.0 C1768.3,576.0 1770.5,581.0 1772.6,586.1 C1774.7,591.2 1776.7,596.3 1778.6,601.5 C1780.5,606.6 1782.3,611.8 1784.0,617.0 C1785.8,622.3 1787.4,627.6 1788.9,632.9 C1790.5,638.2 1791.9,643.6 1793.2,649.0 C1794.6,654.4 1795.8,659.8 1796.9,665.3 C1798.0,670.8 1799.0,676.3 1799.9,681.9 C1800.8,687.5 1801.6,693.1 1802.3,698.7 C1802.9,704.3 1803.5,710.0 1803.9,715.7 C1804.4,721.4 1804.7,727.1 1804.8,732.9 C1805.0,738.7 1805.1,744.5 1805.0,750.3 C1804.9,756.1 1804.7,761.9 1804.4,767.8 C1804.0,773.6 1803.5,779.5 1802.9,785.4 C1802.3,791.3 1801.5,797.2 1800.6,803.1 C1799.6,809.0 1798.5,814.9 1797.3,820.7 C1796.0,826.6 1794.6,832.5 1793.0,838.4 C1791.4,844.2 1789.7,850.0 1787.7,855.8 C1785.8,861.6 1783.7,867.4 1781.4,873.1 C1779.0,878.8 1776.6,884.4 1773.9,890.0 C1771.2,895.5 1768.3,901.0 1765.2,906.4 C1762.2,911.8 1758.9,917.1 1755.4,922.3 C1752.0,927.5 1748.3,932.5 1744.5,937.5 C1740.7,942.4 1736.7,947.2 1732.5,951.8 C1728.3,956.5 1723.9,961.0 1719.4,965.3 C1714.9,969.6 1710.2,973.8 1705.3,977.8 C1700.5,981.8 1695.5,985.6 1690.4,989.2 C1685.3,992.8 1680.0,996.3 1674.7,999.5 C1669.3,1002.8 1663.9,1005.8 1658.3,1008.7 C1652.8,1011.6 1644.2,1015.4 1641.4,1016.8" fill="none" stroke="#666" stroke-width="12" filter="url(#b4)" opacity="0.4"/>
<path d="M1479.3,287.5 C1482.9,288.2 1493.6,289.9 1500.7,291.6 C1507.7,293.2 1514.7,295.3 1521.5,297.6 C1528.3,300.0 1535.0,302.6 1541.6,305.5 C1548.2,308.5 1554.6,311.7 1560.9,315.1 C1567.1,318.5 1573.2,322.2 1579.2,326.1 C1585.1,330.0 1590.9,334.1 1596.4,338.3 C1602.0,342.5 1607.4,346.9 1612.6,351.4 C1617.8,355.9 1622.9,360.6 1627.8,365.3 C1632.6,370.0 1637.3,374.8 1641.9,379.7 C1646.4,384.5 1650.8,389.5 1655.0,394.4 C1659.3,399.3 1663.3,404.3 1667.3,409.3 C1671.3,414.2 1675.1,419.2 1678.8,424.2 C1682.5,429.1 1686.1,434.1 1689.6,439.1 C1693.1,444.0 1696.5,448.9 1699.8,453.9 C1703.1,458.8 1706.3,463.7 1709.5,468.6 C1712.6,473.4 1715.7,478.3 1718.7,483.2 C1721.7,488.0 1724.7,492.9 1727.5,497.7 C1730.4,502.5 1733.2,507.4 1736.0,512.2 C1738.8,517.1 1741.5,521.9 1744.1,526.8 C1746.7,531.6 1749.3,536.5 1751.8,541.4 C1754.3,546.3 1756.8,551.2 1759.2,556.1 C1761.6,561.0 1763.9,566.0 1766.1,571.0 C1768.3,576.0 1770.5,581.0 1772.6,586.1 C1774.7,591.2 1776.7,596.3 1778.6,601.5 C1780.5,606.6 1782.3,611.8 1784.0,617.0 C1785.8,622.3 1787.4,627.6 1788.9,632.9 C1790.5,638.2 1791.9,643.6 1793.2,649.0 C1794.6,654.4 1795.8,659.8 1796.9,665.3 C1798.0,670.8 1799.0,676.3 1799.9,681.9 C1800.8,687.5 1801.6,693.1 1802.3,698.7 C1802.9,704.3 1803.5,710.0 1803.9,715.7 C1804.4,721.4 1804.7,727.1 1804.8,732.9 C1805.0,738.7 1805.1,744.5 1805.0,750.3 C1804.9,756.1 1804.7,761.9 1804.4,767.8 C1804.0,773.6 1803.5,779.5 1802.9,785.4 C1802.3,791.3 1801.5,797.2 1800.6,803.1 C1799.6,809.0 1798.5,814.9 1797.3,820.7 C1796.0,826.6 1794.6,832.5 1793.0,838.4 C1791.4,844.2 1789.7,850.0 1787.7,855.8 C1785.8,861.6 1783.7,867.4 1781.4,873.1 C1779.0,878.8 1776.6,884.4 1773.9,890.0 C1771.2,895.5 1768.3,901.0 1765.2,906.4 C1762.2,911.8 1758.9,917.1 1755.4,922.3 C1752.0,927.5 1748.3,932.5 1744.5,937.5 C1740.7,942.4 1736.7,947.2 1732.5,951.8 C1728.3,956.5 1723.9,961.0 1719.4,965.3 C1714.9,969.6 1710.2,973.8 1705.3,977.8 C1700.5,981.8 1695.5,985.6 1690.4,989.2 C1685.3,992.8 1680.0,996.3 1674.7,999.5 C1669.3,1002.8 1663.9,1005.8 1658.3,1008.7 C1652.8,1011.6 1644.2,1015.4 1641.4,1016.8" fill="none" stroke="#151515" stroke-width="6.5" filter="url(#b1_2)"/>
</g>
<path d="M1624.3,272.5 C1628.0,274.4 1639.4,280.0 1646.7,284.1 C1654.0,288.3 1661.1,292.8 1668.1,297.5 C1675.1,302.2 1681.9,307.1 1688.6,312.3 C1695.3,317.5 1701.9,322.9 1708.3,328.5 C1714.7,334.1 1721.0,339.9 1727.1,345.9 C1733.2,351.9 1739.2,358.0 1745.1,364.3 C1750.9,370.6 1756.7,377.1 1762.3,383.7 C1767.9,390.3 1773.3,397.0 1778.7,403.8 C1784.0,410.7 1789.2,417.6 1794.3,424.7 C1799.4,431.7 1804.3,438.9 1809.1,446.2 C1814.0,453.4 1818.6,460.7 1823.2,468.2 C1827.7,475.6 1832.1,483.1 1836.4,490.6 C1840.6,498.2 1844.7,505.8 1848.7,513.5 C1852.6,521.2 1856.4,529.0 1860.1,536.8 C1863.7,544.7 1867.2,552.5 1870.5,560.5 C1873.8,568.4 1876.9,576.4 1879.8,584.4 C1882.7,592.5 1885.5,600.6 1888.0,608.7 C1890.5,616.8 1892.9,625.0 1895.0,633.3 C1897.1,641.5 1899.0,649.8 1900.7,658.1 C1902.3,666.4 1903.8,674.8 1904.9,683.2 C1906.1,691.5 1907.0,700.0 1907.7,708.4 C1908.4,716.9 1908.8,725.4 1908.9,733.9 C1909.0,742.4 1908.9,750.9 1908.4,759.4 C1908.0,768.0 1907.2,776.5 1906.2,785.1 C1905.2,793.6 1903.8,802.1 1902.2,810.6 C1900.5,819.1 1898.6,827.6 1896.3,836.0 C1894.0,844.4 1891.4,852.7 1888.5,861.0 C1885.6,869.2 1882.4,877.4 1878.8,885.5 C1875.3,893.5 1871.4,901.4 1867.2,909.2 C1863.1,916.9 1858.6,924.5 1853.8,931.8 C1849.1,939.1 1844.0,946.2 1838.7,953.0 C1833.3,959.7 1827.7,966.3 1821.9,972.3 C1816.0,978.4 1809.9,984.2 1803.6,989.4 C1797.3,994.6 1787.4,1001.2 1784.2,1003.5" fill="none" stroke="#808080" stroke-width="1.3"/>
</g>
<path d="M1641.4,1016.8 C1638.5,1018.0 1629.9,1021.6 1624.1,1023.8 C1618.2,1025.9 1612.3,1027.9 1606.4,1029.7 C1600.5,1031.6 1594.5,1033.2 1588.5,1034.7 C1582.5,1036.2 1576.5,1037.6 1570.5,1038.8 C1564.4,1040.1 1558.4,1041.2 1552.3,1042.1 C1546.3,1043.1 1540.2,1044.0 1534.1,1044.7 C1528.1,1045.5 1518.9,1046.3 1515.9,1046.7" fill="none" stroke="#6e6e6e" stroke-width="3" filter="url(#b1_2)" opacity="0.8"/>
<path d="M1515.9,1046.7 C1512.9,1046.9 1503.7,1047.6 1497.6,1048.0 C1491.5,1048.3 1485.4,1048.6 1479.3,1048.7 C1473.2,1048.9 1467.1,1049.0 1461.0,1048.9 C1454.8,1048.9 1448.7,1048.8 1442.6,1048.5 C1436.4,1048.3 1427.2,1047.7 1424.1,1047.5" fill="none" stroke="#8a8a8a" stroke-width="2.5" filter="url(#b1_2)" opacity="0.7"/>
<path d="M1300.0,1019.0 C1295.5,1020.8 1311.3,1030.7 1323.0,1036.0 C1334.7,1041.3 1355.7,1047.2 1370.0,1051.0 C1384.3,1054.8 1397.0,1057.1 1408.7,1058.5 C1420.4,1059.9 1430.6,1060.4 1440.0,1059.5 C1449.4,1058.6 1458.3,1055.6 1465.0,1053.0 C1471.7,1050.4 1485.8,1046.2 1480.0,1044.0 C1474.2,1041.8 1451.7,1043.2 1430.0,1040.0 C1408.3,1036.8 1371.7,1028.5 1350.0,1025.0 C1328.3,1021.5 1304.5,1017.2 1300.0,1019.0Z" fill="#7c7c7c"/>
<path d="M1124.0,698.7 C1124.5,692.5 1125.1,686.3 1125.9,680.2 C1126.6,674.0 1127.6,667.9 1128.6,661.8 C1129.6,655.8 1130.8,649.7 1132.1,643.7 C1133.5,637.7 1134.9,631.7 1136.4,625.8 C1138.0,619.9 1139.7,614.0 1141.4,608.2 C1143.2,602.3 1145.1,596.5 1147.0,590.7 C1149.0,585.0 1151.1,579.2 1153.2,573.5 C1155.4,567.8 1157.6,562.1 1159.9,556.5 C1162.2,550.8 1164.6,545.2 1167.1,539.6 C1169.5,534.0 1172.1,528.4 1174.7,522.8 C1177.3,517.2 1179.9,511.6 1182.7,506.1 C1185.4,500.5 1188.3,494.9 1191.2,489.3 C1194.1,483.7 1197.0,478.2 1200.1,472.6 C1203.2,467.0 1206.3,461.4 1209.6,455.8 C1212.9,450.2 1216.2,444.7 1219.7,439.1 C1223.2,433.5 1226.8,427.9 1230.5,422.4 C1234.3,416.9 1238.2,411.3 1242.2,405.8 C1246.2,400.4 1250.4,394.9 1254.7,389.6 C1259.1,384.2 1263.6,378.9 1268.3,373.7 C1273.0,368.6 1277.9,363.5 1282.9,358.5 C1288.0,353.6 1293.3,348.8 1298.7,344.2 C1304.1,339.6 1309.8,335.1 1315.6,330.9 C1321.4,326.7 1327.4,322.6 1333.5,318.9 C1339.7,315.2 1346.1,311.6 1352.5,308.5 C1359.0,305.3 1365.7,302.3 1372.4,299.8 C1379.2,297.2 1386.1,294.9 1393.1,293.0 C1400.1,291.1 1407.2,289.5 1414.3,288.3 C1421.5,287.2 1428.7,286.3 1435.9,285.9 C1443.2,285.4 1450.4,285.3 1457.7,285.6 C1464.9,285.8 1472.2,286.5 1479.3,287.5 C1486.5,288.5 1493.6,289.9 1500.7,291.6 C1507.7,293.2 1514.7,295.3 1521.5,297.6 C1528.3,300.0 1535.0,302.6 1541.6,305.5 C1548.2,308.5 1554.6,311.7 1560.9,315.1 C1567.1,318.5 1573.2,322.2 1579.2,326.1 C1585.1,330.0 1590.9,334.1 1596.4,338.3 C1602.0,342.5 1607.4,346.9 1612.6,351.4 C1617.8,355.9 1622.9,360.6 1627.8,365.3 C1632.6,370.0 1637.3,374.8 1641.9,379.7 C1646.4,384.5 1650.8,389.5 1655.0,394.4 C1659.3,399.3 1663.3,404.3 1667.3,409.3 C1671.3,414.2 1675.1,419.2 1678.8,424.2 C1682.5,429.1 1686.1,434.1 1689.6,439.1 C1693.1,444.0 1696.5,448.9 1699.8,453.9 C1703.1,458.8 1706.3,463.7 1709.5,468.6 C1712.6,473.4 1715.7,478.3 1718.7,483.2 C1721.7,488.0 1724.7,492.9 1727.5,497.7 C1730.4,502.5 1733.2,507.4 1736.0,512.2 C1738.8,517.1 1741.5,521.9 1744.1,526.8 C1746.7,531.6 1749.3,536.5 1751.8,541.4 C1754.3,546.3 1756.8,551.2 1759.2,556.1 C1761.6,561.0 1763.9,566.0 1766.1,571.0 C1768.3,576.0 1770.5,581.0 1772.6,586.1 C1774.7,591.2 1776.7,596.3 1778.6,601.5 C1780.5,606.6 1782.3,611.8 1784.0,617.0 C1785.8,622.3 1787.4,627.6 1788.9,632.9 C1790.5,638.2 1791.9,643.6 1793.2,649.0 C1794.6,654.4 1795.8,659.8 1796.9,665.3 C1798.0,670.8 1799.0,676.3 1799.9,681.9 C1800.8,687.5 1801.6,693.1 1802.3,698.7 C1802.9,704.3 1803.5,710.0 1803.9,715.7 C1804.4,721.4 1804.7,727.1 1804.8,732.9 C1805.0,738.7 1805.1,744.5 1805.0,750.3 C1804.9,756.1 1804.7,761.9 1804.4,767.8 C1804.0,773.6 1803.5,779.5 1802.9,785.4 C1802.3,791.3 1801.5,797.2 1800.6,803.1 C1799.6,809.0 1798.5,814.9 1797.3,820.7 C1796.0,826.6 1794.6,832.5 1793.0,838.4 C1791.4,844.2 1789.7,850.0 1787.7,855.8 C1785.8,861.6 1783.7,867.4 1781.4,873.1 C1779.0,878.8 1776.6,884.4 1773.9,890.0 C1771.2,895.5 1768.3,901.0 1765.2,906.4 C1762.2,911.8 1758.9,917.1 1755.4,922.3 C1752.0,927.5 1748.3,932.5 1744.5,937.5 C1740.7,942.4 1736.7,947.2 1732.5,951.8 C1728.3,956.5 1723.9,961.0 1719.4,965.3 C1714.9,969.6 1710.2,973.8 1705.3,977.8 C1700.5,981.8 1695.5,985.6 1690.4,989.2 C1685.3,992.8 1680.0,996.3 1674.7,999.5 C1669.3,1002.8 1663.9,1005.8 1658.3,1008.7 C1652.8,1011.6 1647.1,1014.3 1641.4,1016.8 C1635.7,1019.3 1629.9,1021.6 1624.1,1023.8 C1618.2,1025.9 1612.3,1027.9 1606.4,1029.7 C1600.5,1031.6 1594.5,1033.2 1588.5,1034.7 C1582.5,1036.2 1576.5,1037.6 1570.5,1038.8 C1564.4,1040.1 1558.4,1041.2 1552.3,1042.1 C1546.3,1043.1 1540.2,1044.0 1534.1,1044.7 C1528.1,1045.5 1522.0,1046.1 1515.9,1046.7 C1509.8,1047.2 1503.7,1047.6 1497.6,1048.0 C1491.5,1048.3 1485.4,1048.6 1479.3,1048.7 C1473.2,1048.9 1467.1,1049.0 1461.0,1048.9 C1454.8,1048.9 1448.7,1048.8 1442.6,1048.5 C1436.4,1048.3 1430.2,1048.0 1424.1,1047.5 C1417.9,1047.1 1411.7,1046.5 1405.5,1045.8 C1399.4,1045.2 1393.2,1044.4 1387.0,1043.4 C1380.8,1042.4 1374.6,1041.4 1368.4,1040.1 C1362.2,1038.9 1356.0,1037.5 1349.9,1035.9 C1343.7,1034.3 1337.6,1032.6 1331.5,1030.7 C1325.4,1028.8 1319.4,1026.7 1313.4,1024.4 C1307.4,1022.1 1301.4,1019.6 1295.6,1016.9 C1289.7,1014.3 1283.9,1011.4 1278.2,1008.3 C1272.6,1005.3 1266.9,1002.0 1261.5,998.6 C1256.0,995.1 1250.6,991.5 1245.4,987.6 C1240.1,983.8 1235.0,979.8 1230.0,975.6 C1225.1,971.4 1220.3,967.0 1215.6,962.4 C1210.9,957.9 1206.4,953.2 1202.1,948.3 C1197.8,943.4 1193.6,938.4 1189.6,933.3 C1185.7,928.1 1181.8,922.9 1178.2,917.5 C1174.6,912.1 1171.1,906.6 1167.9,901.0 C1164.6,895.4 1161.5,889.6 1158.6,883.9 C1155.7,878.1 1153.0,872.2 1150.5,866.3 C1147.9,860.3 1145.6,854.3 1143.4,848.3 C1141.2,842.2 1139.2,836.1 1137.4,829.9 C1135.6,823.8 1134.0,817.6 1132.5,811.4 C1131.0,805.2 1129.7,798.9 1128.6,792.7 C1127.5,786.4 1126.5,780.1 1125.7,773.9 C1124.9,767.6 1124.3,761.3 1123.8,755.0 C1123.4,748.7 1123.1,742.4 1122.9,736.2 C1122.8,729.9 1122.8,723.6 1123.0,717.4 C1123.2,711.1 1123.5,704.9 1124.0,698.7Z" fill="url(#gRim)"/>
<g clip-path="url(#cRim)">
<path d="M1440.5,1034.7 C1437.4,1034.5 1428.2,1034.1 1422.0,1033.7 C1415.8,1033.3 1409.6,1032.8 1403.3,1032.2 C1397.1,1031.5 1390.9,1030.8 1384.7,1029.9 C1378.4,1029.0 1372.2,1028.0 1366.0,1026.8 C1359.7,1025.6 1353.5,1024.3 1347.3,1022.8 C1341.1,1021.2 1334.9,1019.6 1328.8,1017.7 C1322.6,1015.8 1316.5,1013.7 1310.5,1011.4 C1304.5,1009.1 1298.5,1006.6 1292.6,1003.9 C1286.8,1001.2 1280.9,998.3 1275.3,995.1 C1269.6,992.0 1264.0,988.6 1258.6,985.1 C1253.2,981.5 1247.8,977.7 1242.7,973.7 C1237.6,969.8 1232.6,965.6 1227.7,961.2 C1222.9,956.8 1218.3,952.2 1213.8,947.5 C1209.3,942.8 1205.1,937.9 1201.0,932.8 C1196.9,927.8 1193.0,922.5 1189.3,917.2 C1185.6,911.9 1182.1,906.4 1178.8,900.9 C1175.5,895.3 1172.4,889.6 1169.5,883.9 C1166.5,878.2 1163.8,872.3 1161.3,866.4 C1158.7,860.6 1156.4,854.6 1154.2,848.6 C1152.1,842.6 1150.1,836.5 1148.3,830.5 C1146.5,824.4 1144.9,818.3 1143.4,812.1 C1141.9,806.0 1140.7,799.9 1139.5,793.7 C1138.4,787.6 1137.4,781.4 1136.7,775.2 C1135.9,769.1 1135.2,762.9 1134.7,756.8 C1134.3,750.6 1133.9,744.5 1133.8,738.4 C1133.6,732.2 1133.6,726.1 1133.7,720.1 C1133.9,714.0 1134.2,707.9 1134.6,701.9 C1135.1,695.9 1135.6,689.9 1136.4,683.9 C1137.1,678.0 1138.0,672.1 1139.0,666.2 C1140.0,660.3 1141.1,654.5 1142.4,648.7 C1143.6,643.0 1145.0,637.2 1146.5,631.6 C1148.0,625.9 1149.7,620.2 1151.4,614.7 C1153.1,609.1 1154.9,603.5 1156.8,598.1 C1158.7,592.6 1160.7,587.1 1162.7,581.7 C1164.8,576.3 1166.9,571.0 1169.1,565.6 C1171.3,560.3 1173.6,555.0 1175.9,549.7 C1178.2,544.4 1180.5,539.2 1182.9,533.9 C1185.3,528.7 1187.8,523.5 1190.3,518.2 C1192.8,513.0 1195.4,507.8 1198.0,502.5 C1200.6,497.3 1203.2,492.0 1206.0,486.8 C1208.7,481.5 1211.5,476.2 1214.3,471.0 C1217.2,465.7 1220.2,460.4 1223.2,455.1 C1226.2,449.8 1229.4,444.5 1232.6,439.2 C1235.9,433.9 1239.2,428.6 1242.7,423.4 C1246.2,418.1 1249.8,412.9 1253.6,407.7 C1257.4,402.5 1261.4,397.3 1265.5,392.3 C1269.6,387.3 1273.8,382.3 1278.3,377.4 C1282.8,372.6 1287.4,367.8 1292.2,363.2 C1297.0,358.7 1302.0,354.2 1307.2,350.0 C1312.4,345.7 1317.7,341.6 1323.3,337.8 C1328.8,334.0 1334.5,330.4 1340.4,327.0 C1346.2,323.7 1352.2,320.6 1358.4,317.8 C1364.5,315.0 1370.8,312.4 1377.2,310.2 C1383.6,308.0 1390.1,306.1 1396.7,304.5 C1403.3,302.9 1410.0,301.7 1416.7,300.7 C1423.4,299.8 1433.5,299.2 1436.9,298.9" fill="none" stroke="#f7f8f9" stroke-width="13" filter="url(#b4)"/>
<path d="M1703.9,963.7 C1701.4,965.6 1694.2,971.8 1689.2,975.5 C1684.2,979.3 1679.0,982.9 1673.7,986.2 C1668.4,989.6 1662.9,992.8 1657.4,995.7 C1651.8,998.7 1646.2,1001.5 1640.5,1004.1 C1634.7,1006.6 1628.9,1009.0 1623.1,1011.2 C1617.2,1013.4 1611.3,1015.4 1605.3,1017.2 C1599.3,1019.0 1593.3,1020.6 1587.2,1022.1 C1581.2,1023.6 1575.1,1024.9 1569.0,1026.1 C1563.0,1027.3 1556.9,1028.3 1550.7,1029.2 C1544.6,1030.1 1538.5,1030.9 1532.4,1031.5 C1526.3,1032.2 1520.2,1032.8 1514.1,1033.2 C1508.0,1033.7 1501.8,1034.1 1495.7,1034.4 C1489.6,1034.6 1483.5,1034.8 1477.4,1034.9 C1471.2,1035.1 1465.1,1035.1 1459.0,1035.1 C1452.8,1035.0 1446.7,1034.9 1440.5,1034.7 C1434.3,1034.4 1425.1,1033.9 1422.0,1033.7" fill="none" stroke="#f2f3f5" stroke-width="10" filter="url(#b4)"/>
<path d="M1606.4,1029.7 C1603.4,1030.6 1594.5,1033.2 1588.5,1034.7 C1582.5,1036.2 1576.5,1037.6 1570.5,1038.8 C1564.4,1040.1 1558.4,1041.2 1552.3,1042.1 C1546.3,1043.1 1540.2,1044.0 1534.1,1044.7 C1528.1,1045.5 1522.0,1046.1 1515.9,1046.7 C1509.8,1047.2 1503.7,1047.6 1497.6,1048.0 C1491.5,1048.3 1485.4,1048.6 1479.3,1048.7 C1473.2,1048.9 1467.1,1049.0 1461.0,1048.9 C1454.8,1048.9 1448.7,1048.8 1442.6,1048.5 C1436.4,1048.3 1430.2,1048.0 1424.1,1047.5 C1417.9,1047.1 1411.7,1046.5 1405.5,1045.8 C1399.4,1045.2 1393.2,1044.4 1387.0,1043.4 C1380.8,1042.4 1374.6,1041.4 1368.4,1040.1 C1362.2,1038.9 1356.0,1037.5 1349.9,1035.9 C1343.7,1034.3 1337.6,1032.6 1331.5,1030.7 C1325.4,1028.8 1319.4,1026.7 1313.4,1024.4 C1307.4,1022.1 1301.4,1019.6 1295.6,1016.9 C1289.7,1014.3 1283.9,1011.4 1278.2,1008.3 C1272.6,1005.3 1266.9,1002.0 1261.5,998.6 C1256.0,995.1 1250.6,991.5 1245.4,987.6 C1240.1,983.8 1235.0,979.8 1230.0,975.6 C1225.1,971.4 1220.3,967.0 1215.6,962.4 C1210.9,957.9 1206.4,953.2 1202.1,948.3 C1197.8,943.4 1193.6,938.4 1189.6,933.3 C1185.7,928.1 1181.8,922.9 1178.2,917.5 C1174.6,912.1 1171.1,906.6 1167.9,901.0 C1164.6,895.4 1161.5,889.6 1158.6,883.9 C1155.7,878.1 1153.0,872.2 1150.5,866.3 C1147.9,860.3 1145.6,854.3 1143.4,848.3 C1141.2,842.2 1139.2,836.1 1137.4,829.9 C1135.6,823.8 1134.0,817.6 1132.5,811.4 C1131.0,805.2 1129.7,798.9 1128.6,792.7 C1127.5,786.4 1126.5,780.1 1125.7,773.9 C1124.9,767.6 1124.3,761.3 1123.8,755.0 C1123.4,748.7 1123.1,742.4 1122.9,736.2 C1122.8,729.9 1122.8,723.6 1123.0,717.4 C1123.2,711.1 1123.5,704.9 1124.0,698.7 C1124.5,692.5 1125.1,686.3 1125.9,680.2 C1126.6,674.0 1127.6,667.9 1128.6,661.8 C1129.6,655.8 1130.8,649.7 1132.1,643.7 C1133.5,637.7 1134.9,631.7 1136.4,625.8 C1138.0,619.9 1139.7,614.0 1141.4,608.2 C1143.2,602.3 1145.1,596.5 1147.0,590.7 C1149.0,585.0 1151.1,579.2 1153.2,573.5 C1155.4,567.8 1157.6,562.1 1159.9,556.5 C1162.2,550.8 1164.6,545.2 1167.1,539.6 C1169.5,534.0 1172.1,528.4 1174.7,522.8 C1177.3,517.2 1179.9,511.6 1182.7,506.1 C1185.4,500.5 1188.3,494.9 1191.2,489.3 C1194.1,483.7 1197.0,478.2 1200.1,472.6 C1203.2,467.0 1206.3,461.4 1209.6,455.8 C1212.9,450.2 1216.2,444.7 1219.7,439.1 C1223.2,433.5 1226.8,427.9 1230.5,422.4 C1234.3,416.9 1238.2,411.3 1242.2,405.8 C1246.2,400.4 1250.4,394.9 1254.7,389.6 C1259.1,384.2 1263.6,378.9 1268.3,373.7 C1273.0,368.6 1277.9,363.5 1282.9,358.5 C1288.0,353.6 1293.3,348.8 1298.7,344.2 C1304.1,339.6 1309.8,335.1 1315.6,330.9 C1321.4,326.7 1327.4,322.6 1333.5,318.9 C1339.7,315.2 1346.1,311.6 1352.5,308.5 C1359.0,305.3 1365.7,302.3 1372.4,299.8 C1379.2,297.2 1386.1,294.9 1393.1,293.0 C1400.1,291.1 1407.2,289.5 1414.3,288.3 C1421.5,287.2 1428.7,286.3 1435.9,285.9 C1443.2,285.4 1450.4,285.3 1457.7,285.6 C1464.9,285.8 1472.2,286.5 1479.3,287.5 C1486.5,288.5 1493.6,289.9 1500.7,291.6 C1507.7,293.2 1514.7,295.3 1521.5,297.6 C1528.3,300.0 1535.0,302.6 1541.6,305.5 C1548.2,308.5 1554.6,311.7 1560.9,315.1 C1567.1,318.5 1573.2,322.2 1579.2,326.1 C1585.1,330.0 1590.9,334.1 1596.4,338.3 C1602.0,342.5 1609.9,349.3 1612.6,351.4" fill="none" stroke="#cfd3d8" stroke-width="3" filter="url(#b1_2)"/>
</g>
<path d="M1148.8,669.2 C1149.7,663.5 1150.9,657.9 1152.1,652.3 C1153.3,646.7 1154.7,641.1 1156.2,635.7 C1157.6,630.2 1159.2,624.8 1160.9,619.4 C1162.6,614.0 1164.4,608.7 1166.3,603.5 C1168.2,598.3 1170.1,593.1 1172.1,587.9 C1174.2,582.8 1176.3,577.7 1178.4,572.7 C1180.5,567.7 1182.8,562.7 1185.0,557.7 C1187.2,552.8 1189.5,547.9 1191.8,542.9 C1194.1,538.0 1196.4,533.2 1198.8,528.3 C1201.2,523.4 1203.5,518.5 1205.9,513.6 C1208.4,508.8 1210.8,503.9 1213.3,499.0 C1215.7,494.1 1218.2,489.2 1220.8,484.2 C1223.3,479.3 1225.9,474.3 1228.6,469.3 C1231.2,464.4 1234.0,459.4 1236.8,454.4 C1239.6,449.4 1242.5,444.3 1245.5,439.3 C1248.5,434.3 1251.6,429.3 1254.9,424.3 C1258.2,419.4 1261.5,414.4 1265.1,409.5 C1268.6,404.6 1272.3,399.8 1276.2,395.0 C1280.1,390.3 1284.1,385.6 1288.3,381.1 C1292.5,376.6 1296.9,372.2 1301.5,367.9 C1306.0,363.7 1310.8,359.6 1315.7,355.7 C1320.6,351.9 1325.7,348.2 1330.9,344.8 C1336.2,341.3 1341.6,338.1 1347.2,335.2 C1352.7,332.2 1358.4,329.5 1364.2,327.1 C1370.0,324.7 1376.0,322.5 1382.0,320.7 C1388.0,318.8 1394.2,317.3 1400.3,316.0 C1406.5,314.7 1412.7,313.8 1419.0,313.1 C1425.2,312.4 1431.6,312.0 1437.8,311.9 C1444.1,311.8 1450.4,311.9 1456.7,312.4 C1463.0,312.8 1469.2,313.5 1475.4,314.4 C1481.6,315.4 1487.7,316.6 1493.8,318.0 C1499.9,319.4 1505.9,321.1 1511.8,322.9 C1517.7,324.7 1523.5,326.8 1529.3,329.0 C1535.0,331.3 1540.6,333.7 1546.2,336.3 C1551.7,338.9 1557.1,341.6 1562.4,344.5 C1567.7,347.4 1572.9,350.5 1577.9,353.7 C1583.0,356.8 1587.9,360.2 1592.7,363.6 C1597.5,367.0 1602.2,370.6 1606.7,374.2 C1611.3,377.8 1615.7,381.6 1620.0,385.4 C1624.3,389.2 1628.4,393.2 1632.5,397.1 C1636.5,401.1 1640.4,405.2 1644.2,409.3 C1647.9,413.5 1651.6,417.7 1655.1,421.9 C1658.6,426.1 1662.0,430.4 1665.2,434.8 C1668.5,439.1 1671.7,443.4 1674.7,447.8 C1677.8,452.2 1680.7,456.6 1683.6,461.0 C1686.4,465.5 1689.1,469.9 1691.8,474.3 C1694.5,478.8 1697.0,483.2 1699.6,487.7 C1702.1,492.1 1704.5,496.6 1706.9,501.0 C1709.3,505.5 1711.6,509.9 1713.9,514.3 C1716.1,518.8 1718.4,523.2 1720.6,527.6 C1722.8,532.1 1725.0,536.5 1727.1,541.0 C1729.2,545.4 1731.4,549.8 1733.5,554.3 C1735.6,558.8 1737.6,563.2 1739.7,567.7 C1741.8,572.3 1743.8,576.8 1745.8,581.3 C1747.8,585.9 1749.8,590.5 1751.7,595.2 C1753.7,599.8 1755.6,604.5 1757.5,609.2 C1759.4,614.0 1761.2,618.8 1763.0,623.7 C1764.7,628.5 1766.4,633.4 1768.1,638.4 C1769.7,643.4 1771.3,648.5 1772.7,653.6 C1774.2,658.7 1775.6,663.9 1776.9,669.2 C1778.1,674.5 1779.3,679.8 1780.3,685.2 C1781.4,690.6 1782.3,696.0 1783.1,701.5 C1783.8,707.1 1784.5,712.6 1785.0,718.2 C1785.5,723.9 1785.9,729.5 1786.1,735.2 C1786.2,740.9 1786.3,746.7 1786.2,752.5 C1786.0,758.3 1785.8,764.1 1785.3,769.9 C1784.9,775.7 1784.2,781.6 1783.4,787.4 C1782.6,793.3 1781.7,799.2 1780.5,805.0 C1779.3,810.9 1778.0,816.8 1776.5,822.6 C1774.9,828.4 1773.2,834.3 1771.3,840.1 C1769.4,845.8 1767.3,851.6 1765.0,857.3 C1762.7,863.0 1760.3,868.6 1757.6,874.2 C1754.9,879.8 1752.0,885.3 1748.9,890.7 C1745.8,896.1 1742.5,901.4 1739.0,906.6 C1735.6,911.8 1731.9,916.9 1728.0,921.8 C1724.1,926.7 1720.0,931.5 1715.8,936.2 C1711.5,940.8 1707.0,945.3 1702.4,949.5 C1697.8,953.8 1693.0,957.9 1688.0,961.8 C1683.0,965.7 1677.9,969.4 1672.6,972.9 C1667.4,976.4 1662.0,979.7 1656.4,982.8 C1650.9,985.9 1645.3,988.7 1639.5,991.3 C1633.8,994.0 1628.0,996.4 1622.1,998.6 C1616.2,1000.8 1610.2,1002.8 1604.2,1004.7 C1598.1,1006.5 1592.1,1008.1 1586.0,1009.5 C1579.9,1011.0 1573.7,1012.2 1567.6,1013.4 C1561.5,1014.5 1555.3,1015.4 1549.2,1016.2 C1543.0,1017.1 1536.8,1017.8 1530.7,1018.4 C1524.5,1019.0 1518.4,1019.4 1512.2,1019.8 C1506.1,1020.2 1500.0,1020.5 1493.8,1020.7 C1487.7,1020.9 1481.5,1021.1 1475.4,1021.2 C1469.2,1021.2 1463.1,1021.2 1456.9,1021.2 C1450.8,1021.1 1444.6,1021.0 1438.4,1020.8 C1432.3,1020.6 1426.1,1020.3 1419.8,1019.9 C1413.6,1019.5 1407.4,1019.1 1401.1,1018.5 C1394.9,1017.9 1388.6,1017.2 1382.4,1016.4 C1376.1,1015.6 1369.8,1014.6 1363.5,1013.5 C1357.2,1012.4 1351.0,1011.1 1344.7,1009.6 C1338.5,1008.2 1332.2,1006.5 1326.0,1004.7 C1319.9,1002.8 1313.7,1000.7 1307.6,998.5 C1301.6,996.2 1295.6,993.7 1289.7,990.9 C1283.8,988.2 1278.0,985.2 1272.3,982.0 C1266.6,978.7 1261.1,975.3 1255.7,971.6 C1250.3,967.9 1245.1,964.0 1240.0,959.9 C1235.0,955.7 1230.1,951.4 1225.4,946.8 C1220.8,942.3 1216.3,937.5 1212.0,932.6 C1207.7,927.7 1203.7,922.6 1199.8,917.3 C1196.0,912.1 1192.4,906.7 1188.9,901.2 C1185.5,895.7 1182.3,890.0 1179.4,884.3 C1176.4,878.6 1173.6,872.7 1171.0,866.9 C1168.5,861.0 1166.1,855.0 1163.9,849.0 C1161.8,843.0 1159.8,837.0 1158.0,830.9 C1156.2,824.9 1154.6,818.8 1153.2,812.7 C1151.7,806.6 1150.5,800.5 1149.4,794.4 C1148.3,788.2 1147.3,782.1 1146.6,776.0 C1145.8,770.0 1145.2,763.9 1144.7,757.8 C1144.2,751.8 1143.9,745.7 1143.8,739.7 C1143.6,733.7 1143.6,727.7 1143.7,721.7 C1143.8,715.8 1144.1,709.9 1144.5,704.0 C1145.0,698.1 1145.5,692.2 1146.2,686.5 C1146.9,680.7 1147.8,674.9 1148.8,669.2Z" fill="url(#gFace)"/>
<path d="M1748.9,890.7 C1747.3,893.3 1742.5,901.4 1739.0,906.6 C1735.6,911.8 1731.9,916.9 1728.0,921.8 C1724.1,926.7 1720.0,931.5 1715.8,936.2 C1711.5,940.8 1707.0,945.3 1702.4,949.5 C1697.8,953.8 1693.0,957.9 1688.0,961.8 C1683.0,965.7 1677.9,969.4 1672.6,972.9 C1667.4,976.4 1662.0,979.7 1656.4,982.8 C1650.9,985.9 1645.3,988.7 1639.5,991.3 C1633.8,994.0 1628.0,996.4 1622.1,998.6 C1616.2,1000.8 1610.2,1002.8 1604.2,1004.7 C1598.1,1006.5 1592.1,1008.1 1586.0,1009.5 C1579.9,1011.0 1573.7,1012.2 1567.6,1013.4 C1561.5,1014.5 1555.3,1015.4 1549.2,1016.2 C1543.0,1017.1 1536.8,1017.8 1530.7,1018.4 C1524.5,1019.0 1518.4,1019.4 1512.2,1019.8 C1506.1,1020.2 1500.0,1020.5 1493.8,1020.7 C1487.7,1020.9 1481.5,1021.1 1475.4,1021.2 C1469.2,1021.2 1463.1,1021.2 1456.9,1021.2 C1450.8,1021.1 1444.6,1021.0 1438.4,1020.8 C1432.3,1020.6 1426.1,1020.3 1419.8,1019.9 C1413.6,1019.5 1407.4,1019.1 1401.1,1018.5 C1394.9,1017.9 1388.6,1017.2 1382.4,1016.4 C1376.1,1015.6 1369.8,1014.6 1363.5,1013.5 C1357.2,1012.4 1351.0,1011.1 1344.7,1009.6 C1338.5,1008.2 1332.2,1006.5 1326.0,1004.7 C1319.9,1002.8 1313.7,1000.7 1307.6,998.5 C1301.6,996.2 1295.6,993.7 1289.7,990.9 C1283.8,988.2 1278.0,985.2 1272.3,982.0 C1266.6,978.7 1261.1,975.3 1255.7,971.6 C1250.3,967.9 1245.1,964.0 1240.0,959.9 C1235.0,955.7 1230.1,951.4 1225.4,946.8 C1220.8,942.3 1216.3,937.5 1212.0,932.6 C1207.7,927.7 1203.7,922.6 1199.8,917.3 C1196.0,912.1 1192.4,906.7 1188.9,901.2 C1185.5,895.7 1182.3,890.0 1179.4,884.3 C1176.4,878.6 1173.6,872.7 1171.0,866.9 C1168.5,861.0 1166.1,855.0 1163.9,849.0 C1161.8,843.0 1159.8,837.0 1158.0,830.9 C1156.2,824.9 1154.6,818.8 1153.2,812.7 C1151.7,806.6 1150.5,800.5 1149.4,794.4 C1148.3,788.2 1147.3,782.1 1146.6,776.0 C1145.8,770.0 1145.2,763.9 1144.7,757.8 C1144.2,751.8 1143.9,745.7 1143.8,739.7 C1143.6,733.7 1143.6,727.7 1143.7,721.7 C1143.8,715.8 1144.1,709.9 1144.5,704.0 C1145.0,698.1 1145.5,692.2 1146.2,686.5 C1146.9,680.7 1147.8,674.9 1148.8,669.2 C1149.7,663.5 1150.9,657.9 1152.1,652.3 C1153.3,646.7 1154.7,641.1 1156.2,635.7 C1157.6,630.2 1159.2,624.8 1160.9,619.4 C1162.6,614.0 1164.4,608.7 1166.3,603.5 C1168.2,598.3 1170.1,593.1 1172.1,587.9 C1174.2,582.8 1176.3,577.7 1178.4,572.7 C1180.5,567.7 1182.8,562.7 1185.0,557.7 C1187.2,552.8 1189.5,547.9 1191.8,542.9 C1194.1,538.0 1196.4,533.2 1198.8,528.3 C1201.2,523.4 1203.5,518.5 1205.9,513.6 C1208.4,508.8 1210.8,503.9 1213.3,499.0 C1215.7,494.1 1218.2,489.2 1220.8,484.2 C1223.3,479.3 1225.9,474.3 1228.6,469.3 C1231.2,464.4 1234.0,459.4 1236.8,454.4 C1239.6,449.4 1242.5,444.3 1245.5,439.3 C1248.5,434.3 1251.6,429.3 1254.9,424.3 C1258.2,419.4 1261.5,414.4 1265.1,409.5 C1268.6,404.6 1272.3,399.8 1276.2,395.0 C1280.1,390.3 1284.1,385.6 1288.3,381.1 C1292.5,376.6 1296.9,372.2 1301.5,367.9 C1306.0,363.7 1310.8,359.6 1315.7,355.7 C1320.6,351.9 1325.7,348.2 1330.9,344.8 C1336.2,341.3 1341.6,338.1 1347.2,335.2 C1352.7,332.2 1358.4,329.5 1364.2,327.1 C1370.0,324.7 1376.0,322.5 1382.0,320.7 C1388.0,318.8 1394.2,317.3 1400.3,316.0 C1406.5,314.7 1412.7,313.8 1419.0,313.1 C1425.2,312.4 1431.6,312.0 1437.8,311.9 C1444.1,311.8 1450.4,311.9 1456.7,312.4 C1463.0,312.8 1469.2,313.5 1475.4,314.4 C1481.6,315.4 1487.7,316.6 1493.8,318.0 C1499.9,319.4 1505.9,321.1 1511.8,322.9 C1517.7,324.7 1523.5,326.8 1529.3,329.0 C1535.0,331.3 1540.6,333.7 1546.2,336.3 C1551.7,338.9 1557.1,341.6 1562.4,344.5 C1567.7,347.4 1572.9,350.5 1577.9,353.7 C1583.0,356.8 1590.2,361.9 1592.7,363.6" fill="none" stroke="#6c6c6c" stroke-width="2.2"/>
<path d="M1577.9,353.7 C1580.4,355.3 1587.9,360.2 1592.7,363.6 C1597.5,367.0 1602.2,370.6 1606.7,374.2 C1611.3,377.8 1615.7,381.6 1620.0,385.4 C1624.3,389.2 1628.4,393.2 1632.5,397.1 C1636.5,401.1 1640.4,405.2 1644.2,409.3 C1647.9,413.5 1651.6,417.7 1655.1,421.9 C1658.6,426.1 1662.0,430.4 1665.2,434.8 C1668.5,439.1 1671.7,443.4 1674.7,447.8 C1677.8,452.2 1680.7,456.6 1683.6,461.0 C1686.4,465.5 1689.1,469.9 1691.8,474.3 C1694.5,478.8 1697.0,483.2 1699.6,487.7 C1702.1,492.1 1704.5,496.6 1706.9,501.0 C1709.3,505.5 1711.6,509.9 1713.9,514.3 C1716.1,518.8 1718.4,523.2 1720.6,527.6 C1722.8,532.1 1725.0,536.5 1727.1,541.0 C1729.2,545.4 1731.4,549.8 1733.5,554.3 C1735.6,558.8 1737.6,563.2 1739.7,567.7 C1741.8,572.3 1743.8,576.8 1745.8,581.3 C1747.8,585.9 1749.8,590.5 1751.7,595.2 C1753.7,599.8 1755.6,604.5 1757.5,609.2 C1759.4,614.0 1761.2,618.8 1763.0,623.7 C1764.7,628.5 1766.4,633.4 1768.1,638.4 C1769.7,643.4 1771.3,648.5 1772.7,653.6 C1774.2,658.7 1775.6,663.9 1776.9,669.2 C1778.1,674.5 1779.3,679.8 1780.3,685.2 C1781.4,690.6 1782.3,696.0 1783.1,701.5 C1783.8,707.1 1784.5,712.6 1785.0,718.2 C1785.5,723.9 1785.9,729.5 1786.1,735.2 C1786.2,740.9 1786.3,746.7 1786.2,752.5 C1786.0,758.3 1785.8,764.1 1785.3,769.9 C1784.9,775.7 1784.2,781.6 1783.4,787.4 C1782.6,793.3 1781.7,799.2 1780.5,805.0 C1779.3,810.9 1778.0,816.8 1776.5,822.6 C1774.9,828.4 1773.2,834.3 1771.3,840.1 C1769.4,845.8 1767.3,851.6 1765.0,857.3 C1762.7,863.0 1760.3,868.6 1757.6,874.2 C1754.9,879.8 1752.0,885.3 1748.9,890.7 C1745.8,896.1 1740.7,903.9 1739.0,906.6" fill="none" stroke="#9a9a9a" stroke-width="1.6"/>
<path d="M1276.7,684.8 C1277.4,681.2 1278.2,677.5 1279.1,673.9 C1280.0,670.3 1280.9,666.8 1282.0,663.3 C1283.0,659.7 1284.1,656.3 1285.3,652.8 C1286.5,649.4 1287.7,646.0 1289.0,642.7 C1290.4,639.4 1291.7,636.1 1293.2,632.8 C1294.6,629.6 1296.1,626.4 1297.7,623.3 C1299.2,620.1 1300.8,617.0 1302.4,613.9 C1304.0,610.8 1305.7,607.8 1307.3,604.8 C1309.0,601.7 1310.7,598.7 1312.3,595.7 C1314.0,592.8 1315.7,589.8 1317.4,586.8 C1319.1,583.8 1320.7,580.8 1322.4,577.8 C1324.1,574.8 1325.7,571.8 1327.4,568.7 C1329.0,565.7 1330.7,562.6 1332.3,559.4 C1334.0,556.3 1335.6,553.1 1337.3,549.8 C1338.9,546.6 1340.6,543.3 1342.3,539.9 C1344.0,536.6 1345.7,533.1 1347.5,529.7 C1349.2,526.2 1351.0,522.6 1352.9,519.1 C1354.8,515.5 1356.8,511.9 1358.9,508.2 C1360.9,504.6 1363.1,500.9 1365.4,497.3 C1367.7,493.6 1370.0,490.0 1372.6,486.4 C1375.1,482.8 1377.8,479.2 1380.6,475.7 C1383.4,472.2 1386.4,468.8 1389.5,465.5 C1392.7,462.3 1395.9,459.1 1399.4,456.1 C1402.8,453.1 1406.4,450.2 1410.1,447.6 C1413.8,445.0 1417.7,442.5 1421.6,440.3 C1425.6,438.0 1429.7,436.0 1433.9,434.3 C1438.1,432.5 1442.4,431.0 1446.8,429.8 C1451.1,428.5 1455.6,427.6 1460.1,426.9 C1464.5,426.2 1469.1,425.7 1473.6,425.6 C1478.1,425.4 1482.7,425.5 1487.2,425.8 C1491.7,426.2 1496.2,426.8 1500.6,427.6 C1505.1,428.5 1509.5,429.6 1513.9,430.8 C1518.2,432.1 1522.5,433.6 1526.7,435.3 C1530.9,437.0 1535.0,438.9 1539.0,440.9 C1543.0,442.9 1547.0,445.1 1550.8,447.4 C1554.6,449.7 1558.3,452.1 1562.0,454.6 C1565.6,457.2 1569.1,459.8 1572.5,462.5 C1575.9,465.2 1579.2,468.0 1582.4,470.9 C1585.6,473.8 1588.7,476.7 1591.7,479.6 C1594.7,482.6 1597.6,485.6 1600.4,488.7 C1603.2,491.7 1606.0,494.8 1608.6,497.9 C1611.2,501.0 1613.7,504.1 1616.2,507.3 C1618.6,510.4 1621.0,513.6 1623.3,516.7 C1625.6,519.9 1627.8,523.1 1629.9,526.3 C1632.0,529.5 1634.1,532.7 1636.0,536.0 C1638.0,539.2 1639.9,542.4 1641.8,545.6 C1643.6,548.9 1645.4,552.1 1647.1,555.3 C1648.8,558.5 1650.5,561.8 1652.1,565.0 C1653.7,568.2 1655.3,571.4 1656.8,574.7 C1658.3,577.9 1659.8,581.1 1661.3,584.3 C1662.8,587.5 1664.2,590.7 1665.6,593.9 C1667.0,597.1 1668.4,600.3 1669.8,603.5 C1671.2,606.7 1672.6,609.9 1674.0,613.1 C1675.3,616.3 1676.7,619.5 1678.1,622.8 C1679.5,626.0 1680.9,629.3 1682.2,632.6 C1683.6,635.8 1685.0,639.1 1686.4,642.5 C1687.8,645.8 1689.1,649.2 1690.5,652.6 C1691.9,656.0 1693.2,659.5 1694.5,663.0 C1695.8,666.6 1697.1,670.1 1698.4,673.8 C1699.6,677.4 1700.8,681.1 1701.9,684.8 C1703.0,688.6 1704.1,692.4 1705.1,696.2 C1706.0,700.1 1706.9,704.0 1707.6,708.0 C1708.4,712.0 1709.0,716.0 1709.5,720.0 C1710.0,724.1 1710.4,728.2 1710.6,732.3 C1710.8,736.4 1710.9,740.6 1710.8,744.7 C1710.6,748.9 1710.4,753.0 1709.9,757.2 C1709.4,761.3 1708.8,765.5 1707.9,769.6 C1707.1,773.7 1706.1,777.7 1704.9,781.8 C1703.7,785.8 1702.3,789.8 1700.8,793.7 C1699.2,797.5 1697.5,801.4 1695.6,805.1 C1693.6,808.9 1691.6,812.6 1689.3,816.1 C1687.1,819.7 1684.7,823.2 1682.2,826.5 C1679.7,829.9 1677.0,833.1 1674.2,836.3 C1671.4,839.4 1668.5,842.5 1665.5,845.4 C1662.5,848.3 1659.3,851.1 1656.1,853.8 C1652.9,856.4 1649.6,859.0 1646.2,861.4 C1642.8,863.9 1639.4,866.2 1635.8,868.4 C1632.3,870.6 1628.7,872.7 1625.1,874.7 C1621.5,876.6 1617.8,878.5 1614.1,880.2 C1610.3,881.9 1606.6,883.6 1602.8,885.1 C1599.0,886.6 1595.2,888.0 1591.4,889.3 C1587.5,890.6 1583.7,891.8 1579.8,892.9 C1575.9,894.0 1572.1,895.0 1568.2,895.9 C1564.3,896.8 1560.4,897.6 1556.5,898.3 C1552.7,899.1 1548.8,899.7 1544.9,900.3 C1541.0,900.8 1537.1,901.3 1533.3,901.7 C1529.4,902.1 1525.5,902.5 1521.7,902.8 C1517.8,903.0 1514.0,903.3 1510.1,903.4 C1506.3,903.6 1502.5,903.7 1498.6,903.8 C1494.8,903.9 1491.0,903.9 1487.2,903.9 C1483.3,903.9 1479.5,903.9 1475.7,903.8 C1471.9,903.7 1468.0,903.6 1464.2,903.5 C1460.3,903.3 1456.5,903.1 1452.6,902.9 C1448.8,902.7 1444.9,902.4 1441.0,902.1 C1437.1,901.8 1433.2,901.4 1429.3,901.0 C1425.3,900.5 1421.4,900.0 1417.4,899.4 C1413.5,898.9 1409.5,898.2 1405.5,897.5 C1401.6,896.7 1397.6,895.9 1393.6,894.9 C1389.7,894.0 1385.7,892.9 1381.7,891.7 C1377.8,890.5 1373.9,889.2 1370.0,887.8 C1366.1,886.3 1362.3,884.7 1358.5,883.0 C1354.7,881.2 1351.0,879.3 1347.4,877.3 C1343.7,875.2 1340.2,873.0 1336.7,870.6 C1333.3,868.3 1329.9,865.8 1326.7,863.1 C1323.4,860.4 1320.3,857.6 1317.3,854.7 C1314.4,851.7 1311.5,848.6 1308.8,845.4 C1306.2,842.2 1303.6,838.8 1301.2,835.4 C1298.9,831.9 1296.6,828.4 1294.6,824.8 C1292.5,821.1 1290.6,817.4 1288.9,813.6 C1287.1,809.8 1285.5,806.0 1284.1,802.1 C1282.6,798.2 1281.4,794.2 1280.2,790.3 C1279.1,786.3 1278.1,782.3 1277.2,778.3 C1276.3,774.3 1275.6,770.3 1275.0,766.3 C1274.3,762.3 1273.8,758.3 1273.5,754.3 C1273.1,750.3 1272.8,746.3 1272.6,742.3 C1272.4,738.4 1272.3,734.4 1272.4,730.5 C1272.4,726.6 1272.5,722.7 1272.7,718.8 C1272.9,714.9 1273.1,711.1 1273.5,707.3 C1273.9,703.5 1274.3,699.7 1274.9,696.0 C1275.4,692.2 1276.0,688.5 1276.7,684.8Z" fill="url(#gRing)" stroke="#777" stroke-width="1.4"/>
<path d="M1307.9,687.0 C1308.6,684.0 1309.4,681.0 1310.2,678.0 C1310.9,675.0 1311.7,672.1 1312.6,669.1 C1313.4,666.2 1314.2,663.3 1315.1,660.5 C1316.0,657.6 1316.9,654.8 1317.8,652.0 C1318.7,649.2 1319.7,646.4 1320.6,643.6 C1321.6,640.8 1322.6,638.1 1323.6,635.3 C1324.7,632.6 1325.7,629.9 1326.8,627.2 C1327.9,624.5 1329.0,621.8 1330.2,619.1 C1331.3,616.4 1332.5,613.8 1333.7,611.1 C1334.9,608.4 1336.1,605.8 1337.4,603.1 C1338.6,600.4 1339.9,597.8 1341.2,595.1 C1342.5,592.4 1343.8,589.7 1345.1,587.0 C1346.4,584.3 1347.8,581.6 1349.2,578.9 C1350.5,576.1 1351.9,573.3 1353.3,570.5 C1354.7,567.7 1356.1,564.8 1357.6,561.9 C1359.1,559.0 1360.6,556.1 1362.1,553.1 C1363.7,550.1 1365.3,547.1 1366.9,544.0 C1368.6,540.9 1370.3,537.8 1372.1,534.7 C1373.8,531.5 1375.7,528.4 1377.7,525.2 C1379.6,522.0 1381.7,518.8 1383.8,515.7 C1386.0,512.5 1388.2,509.4 1390.6,506.3 C1393.0,503.2 1395.6,500.1 1398.2,497.2 C1400.9,494.2 1403.6,491.3 1406.5,488.5 C1409.5,485.8 1412.5,483.1 1415.7,480.6 C1418.8,478.2 1422.2,475.8 1425.6,473.7 C1429.0,471.6 1432.5,469.6 1436.2,467.9 C1439.8,466.2 1443.5,464.7 1447.3,463.5 C1451.1,462.2 1455.0,461.2 1458.9,460.5 C1462.8,459.8 1466.8,459.3 1470.8,459.1 C1474.8,458.9 1478.8,459.0 1482.7,459.4 C1486.7,459.7 1490.7,460.3 1494.6,461.1 C1498.5,462.0 1502.4,463.1 1506.1,464.4 C1509.9,465.7 1513.7,467.3 1517.3,469.0 C1520.9,470.7 1524.4,472.7 1527.9,474.7 C1531.3,476.8 1534.6,479.0 1537.8,481.4 C1541.1,483.7 1544.2,486.2 1547.2,488.8 C1550.2,491.3 1553.0,494.0 1555.8,496.6 C1558.6,499.3 1561.3,502.1 1563.9,504.8 C1566.4,507.6 1568.9,510.4 1571.3,513.2 C1573.7,516.0 1576.0,518.8 1578.3,521.5 C1580.6,524.3 1582.7,527.1 1584.9,529.8 C1587.0,532.5 1589.0,535.2 1591.1,537.9 C1593.1,540.6 1595.1,543.3 1597.0,545.9 C1599.0,548.5 1600.9,551.1 1602.8,553.7 C1604.7,556.3 1606.5,558.9 1608.3,561.4 C1610.2,564.0 1612.0,566.5 1613.7,569.1 C1615.5,571.6 1617.3,574.1 1619.0,576.7 C1620.7,579.2 1622.4,581.8 1624.1,584.3 C1625.8,586.9 1627.4,589.4 1629.1,592.0 C1630.7,594.6 1632.3,597.2 1633.9,599.8 C1635.4,602.4 1637.0,605.0 1638.5,607.7 C1640.0,610.3 1641.5,613.0 1642.9,615.7 C1644.4,618.4 1645.8,621.1 1647.2,623.9 C1648.6,626.7 1650.0,629.4 1651.3,632.2 C1652.7,635.1 1654.0,637.9 1655.3,640.8 C1656.7,643.7 1657.9,646.6 1659.2,649.5 C1660.5,652.5 1661.7,655.5 1662.9,658.5 C1664.2,661.5 1665.4,664.6 1666.5,667.7 C1667.7,670.8 1668.8,674.0 1669.9,677.2 C1671.0,680.4 1672.0,683.7 1673.0,687.0 C1674.0,690.4 1675.0,693.7 1675.8,697.1 C1676.7,700.6 1677.5,704.1 1678.2,707.6 C1678.9,711.1 1679.5,714.7 1680.0,718.3 C1680.5,721.9 1680.9,725.5 1681.2,729.2 C1681.4,732.9 1681.6,736.6 1681.5,740.3 C1681.5,744.0 1681.4,747.7 1681.0,751.5 C1680.7,755.2 1680.2,758.9 1679.5,762.6 C1678.9,766.3 1678.0,769.9 1677.0,773.5 C1676.0,777.1 1674.8,780.7 1673.4,784.2 C1672.1,787.7 1670.5,791.1 1668.8,794.5 C1667.1,797.8 1665.2,801.0 1663.1,804.2 C1661.1,807.3 1658.9,810.4 1656.5,813.3 C1654.2,816.2 1651.7,819.0 1649.1,821.7 C1646.5,824.4 1643.7,827.0 1640.9,829.4 C1638.0,831.9 1635.1,834.2 1632.1,836.3 C1629.0,838.5 1625.9,840.6 1622.7,842.5 C1619.6,844.4 1616.3,846.3 1613.0,847.9 C1609.8,849.6 1606.4,851.2 1603.1,852.7 C1599.8,854.2 1596.4,855.5 1593.0,856.8 C1589.6,858.0 1586.2,859.2 1582.8,860.3 C1579.4,861.4 1575.9,862.3 1572.5,863.3 C1569.1,864.2 1565.7,865.0 1562.3,865.8 C1558.9,866.5 1555.5,867.2 1552.1,867.8 C1548.8,868.5 1545.4,869.0 1542.0,869.5 C1538.7,870.0 1535.3,870.5 1532.0,870.9 C1528.7,871.3 1525.3,871.6 1522.0,871.9 C1518.7,872.2 1515.4,872.4 1512.1,872.6 C1508.8,872.8 1505.6,873.0 1502.3,873.1 C1499.0,873.2 1495.8,873.3 1492.5,873.3 C1489.2,873.3 1486.0,873.3 1482.7,873.3 C1479.5,873.3 1476.2,873.2 1473.0,873.1 C1469.7,873.0 1466.5,872.8 1463.2,872.6 C1460.0,872.5 1456.7,872.3 1453.4,872.0 C1450.2,871.8 1446.9,871.5 1443.6,871.2 C1440.3,870.9 1437.0,870.5 1433.7,870.1 C1430.4,869.7 1427.0,869.3 1423.7,868.8 C1420.3,868.3 1417.0,867.7 1413.6,867.1 C1410.2,866.5 1406.9,865.8 1403.5,865.1 C1400.1,864.3 1396.7,863.5 1393.3,862.6 C1389.9,861.6 1386.5,860.6 1383.2,859.5 C1379.8,858.4 1376.4,857.2 1373.1,855.8 C1369.8,854.5 1366.5,853.0 1363.3,851.4 C1360.1,849.8 1356.9,848.1 1353.8,846.2 C1350.7,844.4 1347.7,842.4 1344.8,840.3 C1341.9,838.1 1339.0,835.9 1336.3,833.5 C1333.6,831.0 1331.0,828.5 1328.6,825.8 C1326.1,823.2 1323.8,820.4 1321.7,817.5 C1319.5,814.6 1317.5,811.5 1315.7,808.4 C1313.8,805.3 1312.1,802.1 1310.6,798.8 C1309.1,795.5 1307.8,792.1 1306.6,788.7 C1305.4,785.3 1304.4,781.8 1303.6,778.3 C1302.7,774.8 1302.1,771.3 1301.5,767.7 C1301.0,764.2 1300.6,760.6 1300.3,757.1 C1300.1,753.5 1299.9,750.0 1299.9,746.4 C1299.9,742.9 1300.0,739.4 1300.2,735.9 C1300.4,732.5 1300.7,729.0 1301.0,725.7 C1301.4,722.3 1301.8,718.9 1302.3,715.6 C1302.8,712.3 1303.3,709.0 1303.9,705.8 C1304.5,702.6 1305.2,699.4 1305.8,696.3 C1306.5,693.2 1307.2,690.1 1307.9,687.0Z" fill="url(#gInner)" stroke="#707070" stroke-width="1.6"/>
<ellipse cx="1447.5" cy="349.5" rx="4.8" ry="5.5" fill="url(#gHole)"/>
<ellipse cx="1528.0" cy="362.0" rx="3.5" ry="4.1" fill="url(#gHole)"/>
<ellipse cx="1370.0" cy="372.5" rx="5.2" ry="6.1" fill="url(#gHole)"/>
<ellipse cx="1461.0" cy="391.0" rx="4.8" ry="5.5" fill="url(#gHole)"/>
<ellipse cx="1530.5" cy="403.0" rx="4.4" ry="5.1" fill="url(#gHole)"/>
<ellipse cx="1598.5" cy="408.8" rx="3.4" ry="4.0" fill="url(#gHole)"/>
<ellipse cx="1393.0" cy="412.0" rx="5.2" ry="6.1" fill="url(#gHole)"/>
<ellipse cx="1307.0" cy="428.0" rx="5.2" ry="6.1" fill="url(#gHole)"/>
<ellipse cx="1590.3" cy="445.7" rx="4.4" ry="5.1" fill="url(#gHole)"/>
<ellipse cx="1340.0" cy="462.0" rx="5.2" ry="6.1" fill="url(#gHole)"/>
<ellipse cx="1657.0" cy="474.5" rx="3.4" ry="4.0" fill="url(#gHole)"/>
<ellipse cx="1258.0" cy="499.5" rx="5.2" ry="6.1" fill="url(#gHole)"/>
<ellipse cx="1640.0" cy="503.7" rx="4.3" ry="5.0" fill="url(#gHole)"/>
<ellipse cx="1298.0" cy="524.5" rx="5.2" ry="6.1" fill="url(#gHole)"/>
<ellipse cx="1704.7" cy="550.5" rx="3.4" ry="4.0" fill="url(#gHole)"/>
<ellipse cx="1681.6" cy="569.3" rx="4.3" ry="5.0" fill="url(#gHole)"/>
<ellipse cx="1221.7" cy="579.0" rx="5.2" ry="6.1" fill="url(#gHole)"/>
<ellipse cx="1265.5" cy="593.7" rx="5.2" ry="6.1" fill="url(#gHole)"/>
<ellipse cx="1740.8" cy="634.4" rx="3.4" ry="4.0" fill="url(#gHole)"/>
<ellipse cx="1713.1" cy="641.8" rx="4.1" ry="4.7" fill="url(#gHole)"/>
<ellipse cx="1196.0" cy="664.5" rx="5.2" ry="6.1" fill="url(#gHole)"/>
<ellipse cx="1243.0" cy="667.5" rx="5.2" ry="6.1" fill="url(#gHole)"/>
<ellipse cx="1732.7" cy="719.4" rx="4.0" ry="4.6" fill="url(#gHole)"/>
<ellipse cx="1761.0" cy="724.1" rx="3.3" ry="3.9" fill="url(#gHole)"/>
<ellipse cx="1233.0" cy="745.0" rx="5.2" ry="6.1" fill="url(#gHole)"/>
<ellipse cx="1187.0" cy="754.0" rx="5.2" ry="6.1" fill="url(#gHole)"/>
<ellipse cx="1725.1" cy="798.4" rx="4.0" ry="4.6" fill="url(#gHole)"/>
<ellipse cx="1750.3" cy="815.1" rx="3.3" ry="3.9" fill="url(#gHole)"/>
<ellipse cx="1250.0" cy="821.0" rx="5.2" ry="6.1" fill="url(#gHole)"/>
<ellipse cx="1207.0" cy="841.0" rx="5.2" ry="6.1" fill="url(#gHole)"/>
<ellipse cx="1688.8" cy="866.0" rx="4.0" ry="4.6" fill="url(#gHole)"/>
<ellipse cx="1292.0" cy="884.0" rx="5.2" ry="6.1" fill="url(#gHole)"/>
<ellipse cx="1708.7" cy="893.8" rx="3.3" ry="3.9" fill="url(#gHole)"/>
<ellipse cx="1255.0" cy="913.0" rx="5.2" ry="6.1" fill="url(#gHole)"/>
<ellipse cx="1630.5" cy="910.2" rx="4.3" ry="5.0" fill="url(#gHole)"/>
<ellipse cx="1353.0" cy="922.5" rx="4.8" ry="5.5" fill="url(#gHole)"/>
<ellipse cx="1562.4" cy="932.3" rx="4.3" ry="5.0" fill="url(#gHole)"/>
<ellipse cx="1422.0" cy="938.0" rx="4.8" ry="5.5" fill="url(#gHole)"/>
<ellipse cx="1492.0" cy="941.0" rx="4.8" ry="5.5" fill="url(#gHole)"/>
<ellipse cx="1642.9" cy="947.0" rx="3.3" ry="3.9" fill="url(#gHole)"/>
<ellipse cx="1324.5" cy="960.0" rx="4.8" ry="5.5" fill="url(#gHole)"/>
<ellipse cx="1565.0" cy="973.3" rx="3.3" ry="3.9" fill="url(#gHole)"/>
<ellipse cx="1403.0" cy="980.0" rx="4.8" ry="5.5" fill="url(#gHole)"/>
<ellipse cx="1484.0" cy="984.0" rx="4.8" ry="5.5" fill="url(#gHole)"/>
<ellipse cx="1474.0" cy="442.5" rx="6.5" ry="7.5" fill="#7d7d7d" filter="url(#b2)"/>
<ellipse cx="1475.0" cy="442.5" rx="3.8" ry="4.4" fill="#262626"/>
<ellipse cx="1607.5" cy="526.0" rx="6.5" ry="7.5" fill="#7d7d7d" filter="url(#b2)"/>
<ellipse cx="1608.5" cy="526.0" rx="3.8" ry="4.4" fill="#262626"/>
<ellipse cx="1353.0" cy="542.5" rx="6.5" ry="7.5" fill="#7d7d7d" filter="url(#b2)"/>
<ellipse cx="1354.0" cy="542.5" rx="3.8" ry="4.4" fill="#262626"/>
<ellipse cx="1686.8" cy="682.0" rx="6.5" ry="7.5" fill="#7d7d7d" filter="url(#b2)"/>
<ellipse cx="1687.8" cy="682.0" rx="3.8" ry="4.4" fill="#262626"/>
<ellipse cx="1293.0" cy="702.5" rx="6.5" ry="7.5" fill="#7d7d7d" filter="url(#b2)"/>
<ellipse cx="1294.0" cy="702.5" rx="3.8" ry="4.4" fill="#262626"/>
<ellipse cx="1650.6" cy="842.8" rx="6.5" ry="7.5" fill="#7d7d7d" filter="url(#b2)"/>
<ellipse cx="1651.6" cy="842.8" rx="3.8" ry="4.4" fill="#262626"/>
<ellipse cx="1346.0" cy="857.0" rx="6.5" ry="7.5" fill="#7d7d7d" filter="url(#b2)"/>
<ellipse cx="1347.0" cy="857.0" rx="3.8" ry="4.4" fill="#262626"/>
<ellipse cx="1499.0" cy="888.0" rx="6.5" ry="7.5" fill="#7d7d7d" filter="url(#b2)"/>
<ellipse cx="1500.0" cy="888.0" rx="3.8" ry="4.4" fill="#262626"/>
<path d="M1463.7,542.6 Q1477.5,516.0 1494.2,540.9 L1511.8,567.1 Q1528.5,592.0 1498.6,594.8 L1463.4,598.2 Q1433.5,601.0 1447.3,574.4 Z" fill="#c6c6c6" filter="url(#b4)" transform="translate(3,4)"/>
<path d="M1463.7,542.6 Q1477.5,516.0 1494.2,540.9 L1511.8,567.1 Q1528.5,592.0 1498.6,594.8 L1463.4,598.2 Q1433.5,601.0 1447.3,574.4 Z" fill="#dedede" stroke="#cccccc" stroke-width="1.5" filter="url(#b1_2)"/>
<path d="M1463.1,543.0 Q1474.8,519.7 1488.6,541.7 L1506.0,569.3 Q1519.8,591.3 1493.9,593.6 L1461.1,596.5 Q1435.2,598.8 1446.8,575.5 Z" fill="#d6d6d6" stroke="#c6c6c6" stroke-width="1.2" filter="url(#b1_2)"/>
<path d="M1462.6,543.2 Q1472.1,523.4 1483.2,542.4 L1500.3,571.7 Q1511.4,590.7 1489.5,592.4 L1458.8,594.9 Q1436.8,596.6 1446.4,576.8 Z" fill="#e0e0e0" stroke="#cacaca" stroke-width="1.2" filter="url(#b1_2)"/>
<path d="M1462.0,543.4 Q1469.5,527.0 1478.0,542.9 L1494.5,574.1 Q1503.0,590.0 1485.0,591.3 L1456.5,593.2 Q1438.5,594.5 1446.0,578.1 Z" fill="#fbfbfb" filter="url(#b1_2)"/>
<ellipse cx="1470.5" cy="572.0" rx="10.5" ry="11.9" fill="url(#gNozH)"/>
<path d="M1386.2,718.1 Q1400.0,691.5 1416.7,716.4 L1434.3,742.6 Q1451.0,767.5 1421.1,770.3 L1385.9,773.7 Q1356.0,776.5 1369.8,749.9 Z" fill="#c6c6c6" filter="url(#b4)" transform="translate(3,4)"/>
<path d="M1386.2,718.1 Q1400.0,691.5 1416.7,716.4 L1434.3,742.6 Q1451.0,767.5 1421.1,770.3 L1385.9,773.7 Q1356.0,776.5 1369.8,749.9 Z" fill="#dedede" stroke="#cccccc" stroke-width="1.5" filter="url(#b1_2)"/>
<path d="M1385.6,718.5 Q1397.3,695.2 1411.1,717.2 L1428.5,744.8 Q1442.3,766.8 1416.4,769.1 L1383.6,772.0 Q1357.7,774.3 1369.3,751.0 Z" fill="#d6d6d6" stroke="#c6c6c6" stroke-width="1.2" filter="url(#b1_2)"/>
<path d="M1385.1,718.7 Q1394.6,698.9 1405.7,717.9 L1422.8,747.2 Q1433.9,766.2 1412.0,767.9 L1381.3,770.4 Q1359.3,772.1 1368.9,752.3 Z" fill="#e0e0e0" stroke="#cacaca" stroke-width="1.2" filter="url(#b1_2)"/>
<path d="M1384.5,718.9 Q1392.0,702.5 1400.5,718.4 L1417.0,749.6 Q1425.5,765.5 1407.5,766.8 L1379.0,768.7 Q1361.0,770.0 1368.5,753.6 Z" fill="#fbfbfb" filter="url(#b1_2)"/>
<ellipse cx="1393.0" cy="747.5" rx="10.5" ry="11.9" fill="url(#gNozH)"/>
<path d="M1561.2,709.6 Q1575.0,683.0 1591.7,707.9 L1609.3,734.1 Q1626.0,759.0 1596.1,761.8 L1560.9,765.2 Q1531.0,768.0 1544.8,741.4 Z" fill="#c6c6c6" filter="url(#b4)" transform="translate(3,4)"/>
<path d="M1561.2,709.6 Q1575.0,683.0 1591.7,707.9 L1609.3,734.1 Q1626.0,759.0 1596.1,761.8 L1560.9,765.2 Q1531.0,768.0 1544.8,741.4 Z" fill="#dedede" stroke="#cccccc" stroke-width="1.5" filter="url(#b1_2)"/>
<path d="M1560.6,710.0 Q1572.3,686.7 1586.1,708.7 L1603.5,736.3 Q1617.3,758.3 1591.4,760.6 L1558.6,763.5 Q1532.7,765.8 1544.3,742.5 Z" fill="#d6d6d6" stroke="#c6c6c6" stroke-width="1.2" filter="url(#b1_2)"/>
<path d="M1560.1,710.2 Q1569.6,690.4 1580.7,709.4 L1597.8,738.7 Q1608.9,757.7 1587.0,759.4 L1556.3,761.9 Q1534.3,763.6 1543.9,743.8 Z" fill="#e0e0e0" stroke="#cacaca" stroke-width="1.2" filter="url(#b1_2)"/>
<path d="M1559.5,710.4 Q1567.0,694.0 1575.5,709.9 L1592.0,741.1 Q1600.5,757.0 1582.5,758.3 L1554.0,760.2 Q1536.0,761.5 1543.5,745.1 Z" fill="#fbfbfb" filter="url(#b1_2)"/>
<ellipse cx="1568.0" cy="739.0" rx="10.2" ry="11.5" fill="url(#gNozH)"/>
<line x1="668.6" y1="396.2" x2="1255.0" y2="457.5" stroke="#5b9bd5" stroke-width="1.8"/>
<line x1="690.6" y1="535.7" x2="1357.0" y2="541.0" stroke="#5b9bd5" stroke-width="1.8"/>
<line x1="668.6" y1="814.0" x2="1460.0" y2="584.0" stroke="#5b9bd5" stroke-width="1.8"/>
<path d="M1088.5,811.0 C1085.8,812.7 1077.6,816.9 1072.5,821.4 C1067.4,825.9 1062.0,832.1 1058.0,838.0 C1054.0,843.9 1051.0,850.6 1048.7,856.6 C1046.4,862.6 1045.0,868.4 1044.0,874.0 C1043.0,879.6 1042.8,884.9 1043.0,890.0 C1043.2,895.1 1044.2,900.0 1045.5,904.5 C1046.8,909.0 1048.6,912.6 1051.0,917.0 C1053.4,921.4 1058.5,928.7 1060.0,931.0 L1072.5,932.0 C1070.8,930.5 1064.6,925.7 1062.0,922.8 C1059.4,919.9 1058.2,918.6 1057.0,914.5 C1055.8,910.4 1055.0,903.5 1054.9,898.0 C1054.8,892.5 1055.2,886.9 1056.4,881.4 C1057.6,875.9 1059.3,869.8 1062.0,864.8 C1064.7,859.8 1068.5,855.7 1072.5,851.4 C1076.5,847.1 1081.5,842.5 1086.0,839.0 C1090.5,835.5 1097.2,831.7 1099.4,830.2 Z" fill="#4a80bd"/>
<path d="M1043.0,890.0 C1043.4,892.4 1044.2,900.0 1045.5,904.5 C1046.8,909.0 1048.6,912.6 1051.0,917.0 C1053.4,921.4 1056.1,926.2 1060.0,931.0 C1063.9,935.8 1069.0,941.4 1074.5,945.6 C1080.0,949.8 1086.6,953.2 1093.2,956.0 C1099.8,958.8 1107.0,961.0 1113.9,962.2 C1120.8,963.4 1129.4,963.5 1134.6,963.2 C1139.8,962.9 1143.3,961.0 1145.0,960.6 L1149.6,972 L1160,944.6 L1128.9,933.2 L1134.6,943.5 C1132.9,943.8 1129.4,944.8 1124.2,945.0 C1119.0,945.2 1109.5,945.4 1103.5,944.6 C1097.5,943.8 1093.2,942.5 1088.0,940.4 C1082.8,938.3 1077.2,935.3 1072.5,932.0 C1067.8,928.7 1063.7,924.7 1060.0,920.5 C1056.3,916.3 1052.9,910.9 1050.5,907.0 C1048.1,903.1 1046.7,899.8 1045.5,897.0 C1044.3,894.2 1043.6,891.6 1043.2,890.5 Z" fill="#5b9bd5" stroke="#41719c" stroke-width="1.3" stroke-linejoin="miter"/>
<g fill="#000" font-family="'Liberation Sans','Noto Sans CJK SC',sans-serif" font-size="75.83" font-weight="300">
<text x="420" y="417.5">花洒水</text>
<text x="420" y="561">喷雾水</text>
<text x="420" y="845">颗粒水</text>
<text x="250" y="1127">旋转转环切换水花并顶针除垢</text>
</g>
</svg></body></html>
